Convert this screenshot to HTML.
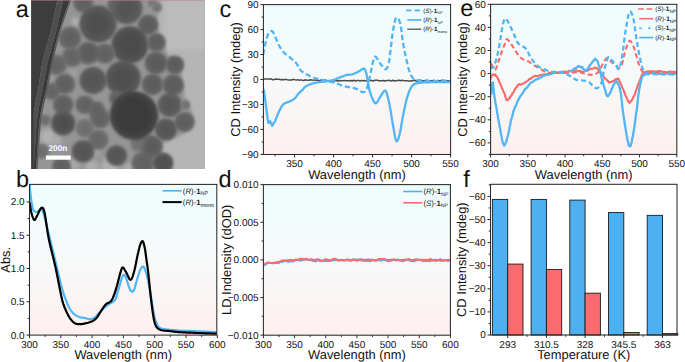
<!DOCTYPE html><html><head><meta charset="utf-8"><style>html,body{margin:0;padding:0;background:#fff;overflow:hidden}svg{display:block}</style></head><body><svg width="685" height="362" viewBox="0 0 685 362" text-rendering="geometricPrecision">
<defs>
<linearGradient id="bg" x1="0" y1="0" x2="0" y2="1">
<stop offset="0" stop-color="#EEFDFE"/><stop offset="0.5" stop-color="#F7F9F9"/><stop offset="1" stop-color="#FDF0EF"/>
</linearGradient>
<filter id="blur05" x="-5%" y="-5%" width="110%" height="110%"><feGaussianBlur stdDeviation="0.5"/></filter>
<filter id="blur1" x="-20%" y="-20%" width="140%" height="140%"><feGaussianBlur stdDeviation="1.5"/></filter>
<filter id="blur2" x="-20%" y="-20%" width="140%" height="140%"><feGaussianBlur stdDeviation="2.2"/></filter>
<radialGradient id="pg" cx="0.5" cy="0.5" r="0.5"><stop offset="0" stop-color="#606060"/><stop offset="0.75" stop-color="#6a6a6a"/><stop offset="1" stop-color="#7c7c7c"/></radialGradient>
<radialGradient id="pgd" cx="0.5" cy="0.5" r="0.5"><stop offset="0" stop-color="#3c3c3c"/><stop offset="0.8" stop-color="#474747"/><stop offset="1" stop-color="#5a5a5a"/></radialGradient>
<clipPath id="temclip"><rect x="31" y="0" width="174" height="169"/></clipPath>
</defs>
<rect width="685" height="362" fill="#fff"/>
<g clip-path="url(#temclip)"><rect x="31" y="0" width="174" height="169" fill="#b4b4b4"/>
<rect x="165" y="0" width="40" height="50" fill="#bbbbbb" filter="url(#blur2)"/>
<path d="M30,-2 L161.00,-2.00 L160.54,0.34 L159.85,3.67 L159.09,7.53 L158.42,11.46 L158.00,15.00 L157.78,18.10 L157.66,21.07 L157.71,23.98 L157.97,26.93 L158.50,30.00 L159.45,33.35 L160.78,36.92 L162.28,40.47 L163.72,43.78 L164.90,46.60 L165.65,48.89 L166.13,50.80 L166.56,52.41 L167.17,53.78 L168.20,55.00 L169.82,55.95 L171.88,56.58 L174.11,57.05 L176.24,57.54 L178.00,58.20 L179.41,58.92 L180.66,59.59 L181.70,60.38 L182.49,61.46 L183.00,63.00 L183.05,65.13 L182.68,67.73 L182.12,70.61 L181.65,73.57 L181.50,76.40 L181.77,79.22 L182.29,82.16 L182.93,85.05 L183.54,87.72 L184.00,90.00 L184.20,91.74 L184.25,93.06 L184.27,94.17 L184.40,95.28 L184.80,96.60 L185.54,98.10 L186.54,99.64 L187.66,101.26 L188.76,103.00 L189.70,104.90 L190.52,107.09 L191.29,109.55 L191.99,112.07 L192.58,114.45 L193.00,116.50 L193.34,118.07 L193.63,119.29 L193.75,120.38 L193.58,121.54 L193.00,123.00 L191.91,124.89 L190.40,127.06 L188.60,129.32 L186.69,131.43 L184.80,133.20 L182.94,134.53 L181.01,135.57 L179.00,136.45 L176.93,137.28 L174.80,138.20 L172.42,139.15 L169.80,140.05 L167.20,140.97 L164.91,142.00 L163.20,143.20 L162.08,144.66 L161.36,146.33 L161.05,148.08 L161.13,149.81 L161.60,151.40 L162.72,152.70 L164.49,153.80 L166.53,154.90 L168.46,156.23 L169.90,158.00 L170.80,160.55 L171.40,163.74 L171.80,167.05 L172.07,169.98 L172.30,172.00 L30,172 Z" fill="#959595" filter="url(#blur1)"/>
<circle cx="48" cy="137" r="8" fill="#b2b2b2" filter="url(#blur2)"/>
<circle cx="56" cy="140" r="6" fill="#aaaaaa" filter="url(#blur2)"/>
<circle cx="74" cy="165" r="6" fill="#a8a8a8" filter="url(#blur2)"/>
<circle cx="110" cy="166" r="9" fill="#b0b0b0" filter="url(#blur2)"/>
<circle cx="92" cy="167" r="7" fill="#adadad" filter="url(#blur2)"/>
<circle cx="128" cy="168" r="5" fill="#aaaaaa" filter="url(#blur2)"/>
<circle cx="95" cy="152" r="5" fill="#a4a4a4" filter="url(#blur2)"/>
<circle cx="75.7" cy="21.5" r="4" fill="#b4b4b4" filter="url(#blur2)"/>
<circle cx="73" cy="73" r="4" fill="#a0a0a0" filter="url(#blur2)"/>
<circle cx="83.2" cy="2.5" r="10.08" fill="#686868" filter="url(#blur1)"/>
<circle cx="98.1" cy="24" r="18.59" fill="#585858" filter="url(#blur1)"/>
<circle cx="114.7" cy="5" r="7.39" fill="#6c6c6c" filter="url(#blur1)"/>
<circle cx="126.6" cy="8.3" r="15.79" fill="#5c5c5c" filter="url(#blur1)"/>
<circle cx="148.1" cy="24.9" r="10.19" fill="#646464" filter="url(#blur1)"/>
<circle cx="157.2" cy="7.5" r="4.59" fill="#787878" filter="url(#blur1)"/>
<circle cx="152.3" cy="2.5" r="4.48" fill="#7e7e7e" filter="url(#blur1)"/>
<circle cx="70" cy="38" r="11.20" fill="#686868" filter="url(#blur1)"/>
<circle cx="129.9" cy="44.8" r="18.59" fill="#535353" filter="url(#blur1)"/>
<circle cx="156.4" cy="42.4" r="9.30" fill="#656565" filter="url(#blur1)"/>
<circle cx="105" cy="53.5" r="10.08" fill="#686868" filter="url(#blur1)"/>
<circle cx="88.2" cy="53" r="11.20" fill="#646464" filter="url(#blur1)"/>
<circle cx="72" cy="57" r="10.08" fill="#6c6c6c" filter="url(#blur1)"/>
<circle cx="156" cy="63" r="11.20" fill="#626262" filter="url(#blur1)"/>
<circle cx="56.6" cy="65" r="10.19" fill="#6c6c6c" filter="url(#blur1)"/>
<circle cx="93" cy="80.5" r="13.44" fill="#5c5c5c" filter="url(#blur1)"/>
<circle cx="123.2" cy="78.2" r="17.58" fill="#575757" filter="url(#blur1)"/>
<circle cx="64.9" cy="84" r="10.19" fill="#666666" filter="url(#blur1)"/>
<circle cx="51.6" cy="91.5" r="8.40" fill="#6c6c6c" filter="url(#blur1)"/>
<circle cx="174.8" cy="64.8" r="9.30" fill="#646464" filter="url(#blur1)"/>
<circle cx="173.2" cy="85" r="10.64" fill="#636363" filter="url(#blur1)"/>
<circle cx="152.5" cy="84.5" r="10.64" fill="#646464" filter="url(#blur1)"/>
<circle cx="63.2" cy="104.7" r="10.19" fill="#666666" filter="url(#blur1)"/>
<circle cx="84.8" cy="104.7" r="9.30" fill="#686868" filter="url(#blur1)"/>
<circle cx="96.6" cy="109.7" r="8.40" fill="#6a6a6a" filter="url(#blur1)"/>
<circle cx="116.5" cy="98.1" r="7.39" fill="#686868" filter="url(#blur1)"/>
<circle cx="169.8" cy="104.9" r="12.10" fill="#5e5e5e" filter="url(#blur1)"/>
<circle cx="185.6" cy="104.9" r="4.59" fill="#787878" filter="url(#blur1)"/>
<circle cx="184.6" cy="122" r="10.08" fill="#656565" filter="url(#blur1)"/>
<circle cx="100" cy="118.3" r="10.19" fill="#6a6a6a" filter="url(#blur1)"/>
<circle cx="63.2" cy="123.3" r="12.10" fill="#565656" filter="url(#blur1)"/>
<circle cx="84.8" cy="128.2" r="9.30" fill="#757575" filter="url(#blur1)"/>
<circle cx="98.3" cy="139.8" r="10.19" fill="#6e6e6e" filter="url(#blur1)"/>
<circle cx="83.1" cy="151.4" r="11.20" fill="#5c5c5c" filter="url(#blur1)"/>
<circle cx="61.5" cy="166.4" r="9.30" fill="#686868" filter="url(#blur1)"/>
<circle cx="41.7" cy="151.4" r="7.39" fill="#757575" filter="url(#blur1)"/>
<circle cx="116.5" cy="155.7" r="10.42" fill="#5c5c5c" filter="url(#blur1)"/>
<circle cx="143" cy="163" r="11.20" fill="#686868" filter="url(#blur1)"/>
<circle cx="139.7" cy="143.2" r="9.30" fill="#787878" filter="url(#blur1)"/>
<circle cx="166" cy="129.5" r="10.98" fill="#5c5c5c" filter="url(#blur1)"/>
<circle cx="151.6" cy="146.5" r="11.20" fill="#646464" filter="url(#blur1)"/>
<circle cx="163.2" cy="163" r="10.19" fill="#585858" filter="url(#blur1)"/>
<circle cx="45" cy="120" r="5.60" fill="#757575" filter="url(#blur1)"/>
<circle cx="83.2" cy="2.5" r="6.75" fill="#606060" filter="url(#blur2)"/>
<circle cx="98.1" cy="24" r="12.45" fill="#505050" filter="url(#blur2)"/>
<circle cx="114.7" cy="5" r="4.95" fill="#646464" filter="url(#blur2)"/>
<circle cx="126.6" cy="8.3" r="10.57" fill="#545454" filter="url(#blur2)"/>
<circle cx="148.1" cy="24.9" r="6.82" fill="#5c5c5c" filter="url(#blur2)"/>
<circle cx="157.2" cy="7.5" r="3.07" fill="#707070" filter="url(#blur2)"/>
<circle cx="152.3" cy="2.5" r="3.00" fill="#767676" filter="url(#blur2)"/>
<circle cx="70" cy="38" r="7.50" fill="#606060" filter="url(#blur2)"/>
<circle cx="129.9" cy="44.8" r="12.45" fill="#4b4b4b" filter="url(#blur2)"/>
<circle cx="156.4" cy="42.4" r="6.23" fill="#5d5d5d" filter="url(#blur2)"/>
<circle cx="105" cy="53.5" r="6.75" fill="#606060" filter="url(#blur2)"/>
<circle cx="88.2" cy="53" r="7.50" fill="#5c5c5c" filter="url(#blur2)"/>
<circle cx="72" cy="57" r="6.75" fill="#646464" filter="url(#blur2)"/>
<circle cx="156" cy="63" r="7.50" fill="#5a5a5a" filter="url(#blur2)"/>
<circle cx="56.6" cy="65" r="6.82" fill="#646464" filter="url(#blur2)"/>
<circle cx="93" cy="80.5" r="9.00" fill="#545454" filter="url(#blur2)"/>
<circle cx="123.2" cy="78.2" r="11.77" fill="#4f4f4f" filter="url(#blur2)"/>
<circle cx="64.9" cy="84" r="6.82" fill="#5e5e5e" filter="url(#blur2)"/>
<circle cx="51.6" cy="91.5" r="5.62" fill="#646464" filter="url(#blur2)"/>
<circle cx="174.8" cy="64.8" r="6.23" fill="#5c5c5c" filter="url(#blur2)"/>
<circle cx="173.2" cy="85" r="7.12" fill="#5b5b5b" filter="url(#blur2)"/>
<circle cx="152.5" cy="84.5" r="7.12" fill="#5c5c5c" filter="url(#blur2)"/>
<circle cx="63.2" cy="104.7" r="6.82" fill="#5e5e5e" filter="url(#blur2)"/>
<circle cx="84.8" cy="104.7" r="6.23" fill="#606060" filter="url(#blur2)"/>
<circle cx="96.6" cy="109.7" r="5.62" fill="#626262" filter="url(#blur2)"/>
<circle cx="116.5" cy="98.1" r="4.95" fill="#606060" filter="url(#blur2)"/>
<circle cx="169.8" cy="104.9" r="8.10" fill="#565656" filter="url(#blur2)"/>
<circle cx="185.6" cy="104.9" r="3.07" fill="#707070" filter="url(#blur2)"/>
<circle cx="184.6" cy="122" r="6.75" fill="#5d5d5d" filter="url(#blur2)"/>
<circle cx="100" cy="118.3" r="6.82" fill="#626262" filter="url(#blur2)"/>
<circle cx="63.2" cy="123.3" r="8.10" fill="#4e4e4e" filter="url(#blur2)"/>
<circle cx="84.8" cy="128.2" r="6.23" fill="#6d6d6d" filter="url(#blur2)"/>
<circle cx="98.3" cy="139.8" r="6.82" fill="#666666" filter="url(#blur2)"/>
<circle cx="83.1" cy="151.4" r="7.50" fill="#545454" filter="url(#blur2)"/>
<circle cx="61.5" cy="166.4" r="6.23" fill="#606060" filter="url(#blur2)"/>
<circle cx="41.7" cy="151.4" r="4.95" fill="#6d6d6d" filter="url(#blur2)"/>
<circle cx="116.5" cy="155.7" r="6.98" fill="#545454" filter="url(#blur2)"/>
<circle cx="143" cy="163" r="7.50" fill="#606060" filter="url(#blur2)"/>
<circle cx="139.7" cy="143.2" r="6.23" fill="#707070" filter="url(#blur2)"/>
<circle cx="166" cy="129.5" r="7.35" fill="#545454" filter="url(#blur2)"/>
<circle cx="151.6" cy="146.5" r="7.50" fill="#5c5c5c" filter="url(#blur2)"/>
<circle cx="163.2" cy="163" r="6.82" fill="#505050" filter="url(#blur2)"/>
<circle cx="45" cy="120" r="3.75" fill="#6d6d6d" filter="url(#blur2)"/>
<circle cx="134" cy="115.5" r="24.3" fill="#444444" filter="url(#blur1)"/>
<circle cx="133.5" cy="115" r="19" fill="#3a3a3a" filter="url(#blur2)"/>
<g filter="url(#blur05)">
<path d="M30,-1 L57.50,-1.00 L56.81,2.38 L55.87,7.07 L54.75,12.62 L53.52,18.59 L52.25,24.53 L51.00,30.00 L49.72,35.06 L48.33,40.07 L46.91,45.06 L45.50,50.04 L44.18,55.01 L43.00,60.00 L41.99,65.06 L41.09,70.19 L40.28,75.31 L39.52,80.37 L38.77,85.29 L38.00,90.00 L37.18,94.46 L36.33,98.70 L35.50,102.81 L34.72,106.85 L34.04,110.89 L33.50,115.00 L33.13,119.10 L32.91,123.11 L32.78,127.12 L32.70,131.22 L32.63,135.49 L32.50,140.00 L32.32,145.18 L32.13,151.04 L31.94,157.06 L31.76,162.74 L31.61,167.56 L31.50,171.00 L30,171 Z" fill="#3d3d3d"/>
<path d="M57.50,-1.00 L56.81,2.38 L55.87,7.07 L54.75,12.62 L53.52,18.59 L52.25,24.53 L51.00,30.00 L49.72,35.06 L48.33,40.07 L46.91,45.06 L45.50,50.04 L44.18,55.01 L43.00,60.00 L41.99,65.06 L41.09,70.19 L40.28,75.31 L39.52,80.37 L38.77,85.29 L38.00,90.00 L37.18,94.46 L36.33,98.70 L35.50,102.81 L34.72,106.85 L34.04,110.89 L33.50,115.00 L33.13,119.10 L32.91,123.11 L32.78,127.12 L32.70,131.22 L32.63,135.49 L32.50,140.00 L32.32,145.18 L32.13,151.04 L31.94,157.06 L31.76,162.74 L31.61,167.56 L31.50,171.00 L33.50,171.00 L33.72,167.56 L34.01,162.74 L34.37,157.06 L34.75,151.04 L35.14,145.18 L35.50,140.00 L35.81,135.49 L36.09,131.22 L36.37,127.12 L36.69,123.11 L37.09,119.10 L37.60,115.00 L38.24,110.89 L38.99,106.85 L39.81,102.81 L40.68,98.70 L41.59,94.46 L42.50,90.00 L43.41,85.29 L44.34,80.37 L45.31,75.31 L46.31,70.19 L47.37,65.06 L48.50,60.00 L49.73,55.01 L51.06,50.04 L52.45,45.06 L53.85,40.07 L55.21,35.06 L56.50,30.00 L57.78,24.53 L59.11,18.59 L60.40,12.62 L61.58,7.07 L62.57,2.38 L63.30,-1.00 Z" fill="#4f4f4f" />
<path d="M63.30,-1.00 L62.57,2.38 L61.58,7.07 L60.40,12.62 L59.11,18.59 L57.78,24.53 L56.50,30.00 L55.21,35.06 L53.85,40.07 L52.45,45.06 L51.06,50.04 L49.73,55.01 L48.50,60.00 L47.37,65.06 L46.31,70.19 L45.31,75.31 L44.34,80.37 L43.41,85.29 L42.50,90.00 L41.59,94.46 L40.68,98.70 L39.81,102.81 L38.99,106.85 L38.24,110.89 L37.60,115.00 L37.09,119.10 L36.69,123.11 L36.37,127.12 L36.09,131.22 L35.81,135.49 L35.50,140.00 L35.14,145.18 L34.75,151.04 L34.37,157.06 L34.01,162.74 L33.72,167.56 L33.50,171.00 L36.00,171.00 L36.21,167.56 L36.51,162.74 L36.86,157.06 L37.24,151.04 L37.63,145.18 L38.00,140.00 L38.33,135.49 L38.63,131.22 L38.93,127.12 L39.29,123.11 L39.73,119.10 L40.30,115.00 L41.03,110.89 L41.88,106.85 L42.82,102.81 L43.81,98.70 L44.82,94.46 L45.80,90.00 L46.75,85.29 L47.70,80.37 L48.66,75.31 L49.66,70.19 L50.70,65.06 L51.80,60.00 L52.95,55.01 L54.14,50.04 L55.37,45.06 L56.66,40.07 L58.03,35.06 L59.50,30.00 L61.21,24.53 L63.18,18.59 L65.23,12.62 L67.17,7.07 L68.83,2.38 L70.00,-1.00 Z" fill="#393939" />
<path d="M70.00,-1.00 L68.83,2.38 L67.17,7.07 L65.23,12.62 L63.18,18.59 L61.21,24.53 L59.50,30.00 L58.03,35.06 L56.66,40.07 L55.37,45.06 L54.14,50.04 L52.95,55.01 L51.80,60.00 L50.70,65.06 L49.66,70.19 L48.66,75.31 L47.70,80.37 L46.75,85.29 L45.80,90.00 L44.82,94.46 L43.81,98.70 L42.82,102.81 L41.88,106.85 L41.03,110.89 L40.30,115.00 L39.73,119.10 L39.29,123.11 L38.93,127.12 L38.63,131.22 L38.33,135.49 L38.00,140.00 L37.63,145.18 L37.24,151.04 L36.86,157.06 L36.51,162.74 L36.21,167.56 L36.00,171.00 L37.50,171.00 L37.71,167.56 L38.00,162.74 L38.34,157.06 L38.72,151.04 L39.11,145.18 L39.50,140.00 L39.85,135.49 L40.19,131.22 L40.53,127.12 L40.93,123.11 L41.40,119.10 L42.00,115.00 L42.74,110.89 L43.59,106.85 L44.53,102.81 L45.52,98.70 L46.52,94.46 L47.50,90.00 L48.45,85.29 L49.41,80.37 L50.38,75.31 L51.37,70.19 L52.41,65.06 L53.50,60.00 L54.63,55.01 L55.78,50.04 L56.97,45.06 L58.22,40.07 L59.56,35.06 L61.00,30.00 L62.70,24.53 L64.67,18.59 L66.72,12.62 L68.67,7.07 L70.32,2.38 L71.50,-1.00 Z" fill="#5a5a5a" />
</g>
<rect x="31" y="100" width="2.5" height="70" fill="#333333" opacity="0.7"/>
<rect x="31" y="0" width="0.8" height="169" fill="#7a5a5a" opacity="0.6"/>
<rect x="31" y="0" width="174" height="0.8" fill="#b88a8a" opacity="0.6"/>
<rect x="45.9" y="155.5" width="24.8" height="4.2" fill="#fff"/>
<text x="57.9" y="150.6" font-size="8.3" text-anchor="middle" font-family="Liberation Sans, sans-serif" font-weight="bold" fill="#fff">200n</text></g>
<text x="15.80" y="16.60" font-size="23.5" text-anchor="start" font-family="Liberation Sans, sans-serif" fill="#111" >a</text>
<text x="16.00" y="186.50" font-size="23.5" text-anchor="start" font-family="Liberation Sans, sans-serif" fill="#111" >b</text>
<text x="219.60" y="16.60" font-size="23.5" text-anchor="start" font-family="Liberation Sans, sans-serif" fill="#111" >c</text>
<text x="218.40" y="187.00" font-size="23.5" text-anchor="start" font-family="Liberation Sans, sans-serif" fill="#111" >d</text>
<text x="460.20" y="16.40" font-size="23.5" text-anchor="start" font-family="Liberation Sans, sans-serif" fill="#111" >e</text>
<text x="463.30" y="186.90" font-size="23.5" text-anchor="start" font-family="Liberation Sans, sans-serif" fill="#111" >f</text>
<rect x="29.5" y="184.4" width="187.3" height="150.7" fill="url(#bg)"/>
<clipPath id="cb"><rect x="29.5" y="184.4" width="187.3" height="150.7"/></clipPath>
<g clip-path="url(#cb)">
<path d="M29.50,183.92 L29.59,184.90 L29.71,186.22 L29.85,187.79 L30.01,189.54 L30.18,191.37 L30.37,193.21 L30.56,194.97 L30.75,196.57 L30.96,198.11 L31.18,199.68 L31.41,201.27 L31.65,202.82 L31.90,204.29 L32.15,205.66 L32.39,206.87 L32.63,207.89 L32.86,208.71 L33.08,209.35 L33.31,209.85 L33.53,210.22 L33.76,210.52 L33.99,210.77 L34.24,210.99 L34.51,211.22 L34.78,211.45 L35.06,211.64 L35.35,211.79 L35.64,211.89 L35.95,211.95 L36.28,211.97 L36.63,211.95 L37.01,211.89 L37.43,211.74 L37.89,211.47 L38.38,211.13 L38.89,210.77 L39.40,210.42 L39.89,210.13 L40.35,209.94 L40.77,209.89 L41.12,209.89 L41.42,209.84 L41.69,209.82 L41.94,209.89 L42.20,210.13 L42.50,210.61 L42.85,211.39 L43.27,212.56 L43.75,214.06 L44.26,215.82 L44.80,217.85 L45.39,220.13 L46.02,222.68 L46.71,225.48 L47.46,228.55 L48.28,231.87 L49.22,235.67 L50.28,240.05 L51.43,244.81 L52.63,249.77 L53.82,254.74 L54.97,259.53 L56.04,263.96 L56.98,267.83 L57.79,271.18 L58.50,274.20 L59.14,276.94 L59.73,279.45 L60.29,281.81 L60.85,284.06 L61.43,286.26 L62.05,288.48 L62.71,290.69 L63.37,292.83 L64.04,294.88 L64.72,296.85 L65.39,298.73 L66.06,300.51 L66.72,302.18 L67.37,303.73 L68.01,305.16 L68.62,306.46 L69.22,307.65 L69.82,308.74 L70.43,309.75 L71.05,310.68 L71.70,311.56 L72.38,312.39 L73.10,313.16 L73.85,313.85 L74.62,314.46 L75.41,315.02 L76.20,315.51 L77.00,315.95 L77.80,316.35 L78.58,316.72 L79.36,317.02 L80.16,317.25 L80.95,317.42 L81.75,317.55 L82.54,317.65 L83.31,317.74 L84.06,317.85 L84.78,317.98 L85.46,318.16 L86.11,318.36 L86.74,318.57 L87.35,318.78 L87.96,318.96 L88.56,319.10 L89.17,319.18 L89.78,319.18 L90.41,319.12 L91.04,319.00 L91.67,318.84 L92.30,318.63 L92.92,318.38 L93.55,318.07 L94.17,317.72 L94.79,317.32 L95.41,316.85 L96.02,316.30 L96.63,315.70 L97.23,315.05 L97.84,314.38 L98.45,313.70 L99.06,313.03 L99.67,312.39 L100.29,311.76 L100.92,311.11 L101.54,310.46 L102.17,309.81 L102.80,309.17 L103.43,308.55 L104.06,307.96 L104.68,307.39 L105.31,306.87 L105.93,306.39 L106.55,305.93 L107.17,305.48 L107.79,305.05 L108.42,304.62 L109.05,304.18 L109.69,303.73 L110.36,303.30 L111.06,302.91 L111.78,302.53 L112.49,302.15 L113.19,301.73 L113.85,301.25 L114.47,300.68 L115.01,300.00 L115.48,299.19 L115.89,298.25 L116.26,297.22 L116.58,296.13 L116.89,295.01 L117.18,293.90 L117.47,292.82 L117.77,291.81 L118.07,290.85 L118.35,289.92 L118.63,289.00 L118.90,288.09 L119.16,287.19 L119.42,286.30 L119.69,285.39 L119.96,284.48 L120.23,283.53 L120.51,282.54 L120.79,281.52 L121.07,280.51 L121.35,279.54 L121.62,278.64 L121.89,277.83 L122.15,277.16 L122.40,276.59 L122.63,276.08 L122.86,275.65 L123.09,275.31 L123.31,275.04 L123.54,274.87 L123.78,274.80 L124.03,274.83 L124.28,274.96 L124.54,275.20 L124.80,275.54 L125.06,275.97 L125.34,276.49 L125.62,277.08 L125.91,277.75 L126.22,278.49 L126.54,279.36 L126.88,280.40 L127.24,281.56 L127.61,282.78 L127.97,284.00 L128.34,285.17 L128.69,286.24 L129.03,287.15 L129.36,287.94 L129.68,288.68 L130.00,289.35 L130.31,289.96 L130.61,290.48 L130.92,290.92 L131.23,291.25 L131.54,291.48 L131.85,291.62 L132.15,291.69 L132.45,291.69 L132.75,291.58 L133.06,291.36 L133.37,291.00 L133.70,290.49 L134.04,289.81 L134.40,288.90 L134.78,287.75 L135.17,286.42 L135.57,284.96 L135.97,283.45 L136.37,281.94 L136.78,280.49 L137.17,279.16 L137.56,277.89 L137.96,276.59 L138.36,275.30 L138.75,274.04 L139.15,272.83 L139.54,271.71 L139.92,270.70 L140.30,269.83 L140.68,269.08 L141.06,268.41 L141.43,267.82 L141.80,267.33 L142.17,266.95 L142.52,266.68 L142.86,266.53 L143.18,266.50 L143.48,266.61 L143.75,266.85 L144.00,267.20 L144.25,267.67 L144.49,268.24 L144.75,268.91 L145.02,269.66 L145.31,270.50 L145.63,271.40 L145.95,272.36 L146.29,273.40 L146.64,274.54 L147.00,275.80 L147.37,277.19 L147.74,278.75 L148.13,280.49 L148.53,282.48 L148.95,284.75 L149.39,287.22 L149.83,289.81 L150.27,292.44 L150.71,295.04 L151.12,297.52 L151.51,299.80 L151.87,301.95 L152.20,304.07 L152.52,306.13 L152.83,308.13 L153.13,310.04 L153.43,311.85 L153.75,313.55 L154.07,315.12 L154.40,316.55 L154.72,317.85 L155.04,319.03 L155.36,320.12 L155.70,321.12 L156.06,322.05 L156.46,322.93 L156.89,323.78 L157.28,324.57 L157.57,325.29 L157.85,325.93 L158.17,326.52 L158.62,327.06 L159.26,327.55 L160.16,328.01 L161.40,328.44 L162.90,328.83 L164.56,329.15 L166.42,329.42 L168.50,329.66 L170.85,329.88 L173.48,330.08 L176.43,330.29 L179.74,330.50 L183.77,330.74 L188.66,330.97 L194.07,331.21 L199.67,331.43 L205.12,331.64 L210.10,331.83 L214.27,331.98 L217.30,332.10" fill="none" stroke="#52B5F4" stroke-width="2.2" stroke-linejoin="round"/>
<path d="M29.50,201.90 L29.64,202.74 L29.82,203.89 L30.03,205.26 L30.26,206.77 L30.52,208.34 L30.80,209.88 L31.09,211.31 L31.38,212.56 L31.69,213.71 L32.02,214.89 L32.37,216.04 L32.73,217.13 L33.10,218.11 L33.47,218.92 L33.84,219.53 L34.20,219.88 L34.54,219.95 L34.86,219.77 L35.18,219.39 L35.51,218.84 L35.84,218.17 L36.20,217.43 L36.58,216.65 L37.01,215.89 L37.49,214.99 L38.03,213.87 L38.60,212.63 L39.18,211.35 L39.77,210.14 L40.35,209.10 L40.90,208.31 L41.39,207.89 L41.84,207.73 L42.24,207.67 L42.61,207.78 L42.97,208.10 L43.33,208.69 L43.70,209.60 L44.09,210.87 L44.52,212.56 L44.98,214.76 L45.43,217.47 L45.90,220.59 L46.39,224.00 L46.90,227.61 L47.46,231.30 L48.06,234.98 L48.72,238.53 L49.46,242.05 L50.28,245.67 L51.16,249.36 L52.08,253.10 L53.00,256.85 L53.92,260.57 L54.79,264.24 L55.60,267.83 L56.38,271.46 L57.15,275.21 L57.90,278.99 L58.63,282.71 L59.32,286.27 L59.97,289.59 L60.57,292.58 L61.11,295.14 L61.56,297.19 L61.90,298.79 L62.18,300.03 L62.43,301.04 L62.67,301.93 L62.94,302.79 L63.26,303.76 L63.68,304.93 L64.19,306.30 L64.76,307.75 L65.38,309.24 L66.04,310.75 L66.71,312.23 L67.39,313.64 L68.05,314.95 L68.69,316.12 L69.30,317.16 L69.91,318.12 L70.52,319.00 L71.13,319.80 L71.74,320.53 L72.34,321.19 L72.95,321.78 L73.57,322.31 L74.18,322.77 L74.79,323.14 L75.39,323.44 L75.99,323.67 L76.61,323.85 L77.24,323.99 L77.89,324.10 L78.58,324.18 L79.30,324.22 L80.04,324.22 L80.82,324.16 L81.60,324.07 L82.40,323.96 L83.20,323.82 L83.99,323.67 L84.78,323.51 L85.56,323.35 L86.35,323.17 L87.15,322.98 L87.95,322.77 L88.74,322.54 L89.51,322.28 L90.26,322.01 L90.97,321.71 L91.66,321.42 L92.31,321.13 L92.94,320.83 L93.55,320.50 L94.16,320.13 L94.76,319.70 L95.36,319.19 L95.98,318.58 L96.61,317.85 L97.24,317.01 L97.86,316.07 L98.49,315.08 L99.12,314.06 L99.75,313.04 L100.37,312.05 L100.99,311.12 L101.60,310.22 L102.22,309.29 L102.82,308.37 L103.43,307.46 L104.04,306.58 L104.65,305.76 L105.26,305.00 L105.87,304.33 L106.50,303.79 L107.16,303.36 L107.82,303.02 L108.49,302.73 L109.13,302.44 L109.76,302.11 L110.34,301.71 L110.88,301.20 L111.36,300.60 L111.79,299.95 L112.19,299.26 L112.56,298.52 L112.92,297.73 L113.27,296.88 L113.63,295.98 L114.01,295.01 L114.40,293.96 L114.79,292.85 L115.18,291.67 L115.57,290.44 L115.97,289.16 L116.36,287.85 L116.75,286.51 L117.14,285.15 L117.54,283.71 L117.94,282.15 L118.35,280.53 L118.76,278.89 L119.16,277.29 L119.54,275.76 L119.92,274.37 L120.27,273.16 L120.59,272.08 L120.88,271.07 L121.15,270.14 L121.42,269.31 L121.68,268.61 L121.96,268.07 L122.25,267.69 L122.59,267.50 L122.94,267.54 L123.32,267.79 L123.70,268.23 L124.10,268.81 L124.52,269.50 L124.96,270.26 L125.42,271.05 L125.90,271.83 L126.42,272.76 L126.98,273.95 L127.57,275.26 L128.17,276.60 L128.78,277.83 L129.37,278.86 L129.94,279.56 L130.47,279.82 L130.97,279.63 L131.45,279.10 L131.90,278.29 L132.35,277.24 L132.78,276.02 L133.20,274.67 L133.62,273.26 L134.04,271.83 L134.46,270.29 L134.87,268.54 L135.28,266.65 L135.67,264.67 L136.06,262.67 L136.44,260.72 L136.81,258.86 L137.17,257.18 L137.52,255.61 L137.86,254.09 L138.18,252.63 L138.50,251.23 L138.81,249.90 L139.11,248.67 L139.40,247.54 L139.68,246.52 L139.94,245.62 L140.20,244.83 L140.44,244.13 L140.67,243.53 L140.90,243.00 L141.12,242.56 L141.34,242.18 L141.55,241.86 L141.76,241.59 L141.96,241.36 L142.15,241.20 L142.34,241.11 L142.52,241.12 L142.71,241.24 L142.91,241.48 L143.12,241.86 L143.34,242.40 L143.57,243.08 L143.81,243.90 L144.06,244.82 L144.30,245.82 L144.54,246.90 L144.78,248.03 L145.00,249.19 L145.21,250.41 L145.41,251.74 L145.61,253.14 L145.80,254.60 L145.99,256.09 L146.18,257.58 L146.37,259.07 L146.56,260.51 L146.75,261.79 L146.91,262.87 L147.07,263.88 L147.23,264.92 L147.41,266.12 L147.61,267.59 L147.84,269.46 L148.13,271.83 L148.46,274.86 L148.85,278.52 L149.26,282.60 L149.71,286.94 L150.16,291.34 L150.62,295.63 L151.08,299.62 L151.51,303.13 L151.91,306.26 L152.30,309.24 L152.69,312.05 L153.07,314.68 L153.47,317.11 L153.89,319.34 L154.34,321.34 L154.83,323.11 L155.33,324.59 L155.82,325.78 L156.32,326.72 L156.85,327.46 L157.43,328.06 L158.09,328.56 L158.84,329.03 L159.71,329.51 L160.71,329.94 L161.85,330.25 L163.09,330.48 L164.40,330.64 L165.74,330.75 L167.10,330.85 L168.44,330.96 L169.72,331.10 L170.96,331.27 L172.17,331.42 L173.37,331.56 L174.58,331.70 L175.80,331.83 L177.06,331.95 L178.37,332.06 L179.74,332.17 L181.10,332.26 L182.40,332.34 L183.70,332.41 L185.06,332.47 L186.54,332.54 L188.19,332.60 L190.08,332.68 L192.26,332.77 L194.96,332.88 L198.23,333.01 L201.83,333.16 L205.56,333.31 L209.19,333.45 L212.51,333.58 L215.28,333.69 L217.30,333.77" fill="none" stroke="#000" stroke-width="2.2" stroke-linejoin="round"/>
</g>
<rect x="29.5" y="184.4" width="187.3" height="150.70000000000002" fill="none" stroke="#2a2a2a" stroke-width="1.05"/>
<line x1="29.50" y1="335.1" x2="29.50" y2="338.1" stroke="#2a2a2a" stroke-width="1"/>
<text x="29.50" y="347.60" font-size="10.0" text-anchor="middle" font-family="Liberation Sans, sans-serif" fill="#111" >300</text>
<line x1="60.80" y1="335.1" x2="60.80" y2="338.1" stroke="#2a2a2a" stroke-width="1"/>
<text x="60.80" y="347.60" font-size="10.0" text-anchor="middle" font-family="Liberation Sans, sans-serif" fill="#111" >350</text>
<line x1="92.10" y1="335.1" x2="92.10" y2="338.1" stroke="#2a2a2a" stroke-width="1"/>
<text x="92.10" y="347.60" font-size="10.0" text-anchor="middle" font-family="Liberation Sans, sans-serif" fill="#111" >400</text>
<line x1="123.40" y1="335.1" x2="123.40" y2="338.1" stroke="#2a2a2a" stroke-width="1"/>
<text x="123.40" y="347.60" font-size="10.0" text-anchor="middle" font-family="Liberation Sans, sans-serif" fill="#111" >450</text>
<line x1="154.70" y1="335.1" x2="154.70" y2="338.1" stroke="#2a2a2a" stroke-width="1"/>
<text x="154.70" y="347.60" font-size="10.0" text-anchor="middle" font-family="Liberation Sans, sans-serif" fill="#111" >500</text>
<line x1="186.00" y1="335.1" x2="186.00" y2="338.1" stroke="#2a2a2a" stroke-width="1"/>
<text x="186.00" y="347.60" font-size="10.0" text-anchor="middle" font-family="Liberation Sans, sans-serif" fill="#111" >550</text>
<line x1="217.30" y1="335.1" x2="217.30" y2="338.1" stroke="#2a2a2a" stroke-width="1"/>
<text x="217.30" y="347.60" font-size="10.0" text-anchor="middle" font-family="Liberation Sans, sans-serif" fill="#111" >600</text>
<line x1="45.15" y1="335.1" x2="45.15" y2="336.90000000000003" stroke="#2a2a2a" stroke-width="1"/>
<line x1="76.45" y1="335.1" x2="76.45" y2="336.90000000000003" stroke="#2a2a2a" stroke-width="1"/>
<line x1="107.75" y1="335.1" x2="107.75" y2="336.90000000000003" stroke="#2a2a2a" stroke-width="1"/>
<line x1="139.05" y1="335.1" x2="139.05" y2="336.90000000000003" stroke="#2a2a2a" stroke-width="1"/>
<line x1="170.35" y1="335.1" x2="170.35" y2="336.90000000000003" stroke="#2a2a2a" stroke-width="1"/>
<line x1="201.65" y1="335.1" x2="201.65" y2="336.90000000000003" stroke="#2a2a2a" stroke-width="1"/>
<line x1="26.5" y1="335.10" x2="29.5" y2="335.10" stroke="#2a2a2a" stroke-width="1"/>
<text x="24.70" y="338.50" font-size="10.0" text-anchor="end" font-family="Liberation Sans, sans-serif" fill="#111" >0.0</text>
<line x1="26.5" y1="301.80" x2="29.5" y2="301.80" stroke="#2a2a2a" stroke-width="1"/>
<text x="24.70" y="305.20" font-size="10.0" text-anchor="end" font-family="Liberation Sans, sans-serif" fill="#111" >0.5</text>
<line x1="26.5" y1="268.50" x2="29.5" y2="268.50" stroke="#2a2a2a" stroke-width="1"/>
<text x="24.70" y="271.90" font-size="10.0" text-anchor="end" font-family="Liberation Sans, sans-serif" fill="#111" >1.0</text>
<line x1="26.5" y1="235.20" x2="29.5" y2="235.20" stroke="#2a2a2a" stroke-width="1"/>
<text x="24.70" y="238.60" font-size="10.0" text-anchor="end" font-family="Liberation Sans, sans-serif" fill="#111" >1.5</text>
<line x1="26.5" y1="201.90" x2="29.5" y2="201.90" stroke="#2a2a2a" stroke-width="1"/>
<text x="24.70" y="205.30" font-size="10.0" text-anchor="end" font-family="Liberation Sans, sans-serif" fill="#111" >2.0</text>
<line x1="27.7" y1="318.45" x2="29.5" y2="318.45" stroke="#2a2a2a" stroke-width="1"/>
<line x1="27.7" y1="285.15" x2="29.5" y2="285.15" stroke="#2a2a2a" stroke-width="1"/>
<line x1="27.7" y1="251.85" x2="29.5" y2="251.85" stroke="#2a2a2a" stroke-width="1"/>
<line x1="27.7" y1="218.55" x2="29.5" y2="218.55" stroke="#2a2a2a" stroke-width="1"/>
<text x="123.25" y="359.20" font-size="12.9" text-anchor="middle" font-family="Liberation Sans, sans-serif" fill="#111" >Wavelength (nm)</text>
<text x="9.6" y="259.8" font-size="12.9" text-anchor="middle" font-family="Liberation Sans, sans-serif" fill="#111" transform="rotate(-90 9.6 259.8)">Abs.</text>
<line x1="162.5" y1="190.8" x2="181.7" y2="190.8" stroke="#4DB1F1" stroke-width="1.6"/>
<line x1="162.5" y1="202.1" x2="181.7" y2="202.1" stroke="#000" stroke-width="2"/>
<text x="182.8" y="193.8" font-size="7.8" font-family="Liberation Sans, sans-serif" fill="#222">(<tspan font-style="italic">R</tspan>)-<tspan font-weight="bold">1</tspan><tspan font-size="5.4" dy="1.6">NP</tspan></text>
<text x="182.8" y="205.1" font-size="7.8" font-family="Liberation Sans, sans-serif" fill="#222">(<tspan font-style="italic">R</tspan>)-<tspan font-weight="bold">1</tspan><tspan font-size="5.4" dy="1.6">mono</tspan></text>
<rect x="263.4" y="4.6" width="187.2" height="149.9" fill="url(#bg)"/>
<clipPath id="cc"><rect x="263.4" y="4.6" width="187.2" height="149.9"/></clipPath>
<g clip-path="url(#cc)">
<path d="M263.40,79.06 L264.96,79.00 L266.52,78.99 L268.08,78.90 L269.64,79.10 L271.20,78.98 L272.76,79.76 L274.32,79.43 L275.88,79.06 L277.44,79.34 L279.00,79.17 L280.56,79.86 L282.12,79.59 L283.68,79.81 L285.24,79.60 L286.80,79.60 L288.36,80.10 L289.92,79.97 L291.48,79.95 L293.04,79.45 L294.60,79.61 L296.16,80.15 L297.72,79.65 L299.28,80.23 L300.84,79.87 L302.40,80.31 L303.96,80.45 L305.52,79.76 L307.08,80.34 L308.64,80.37 L310.20,79.76 L311.76,79.89 L313.32,80.41 L314.88,79.88 L316.44,80.27 L318.00,80.18 L319.56,80.61 L321.12,80.03 L322.68,80.27 L324.24,80.08 L325.80,80.17 L327.36,80.70 L328.92,80.68 L330.48,80.88 L332.04,80.93 L333.60,81.03 L335.16,80.83 L336.72,80.58 L338.28,81.08 L339.84,80.52 L341.40,80.80 L342.96,80.82 L344.52,80.40 L346.08,80.68 L347.64,80.82 L349.20,80.68 L350.76,80.49 L352.32,81.03 L353.88,80.27 L355.44,81.06 L357.00,80.46 L358.56,80.38 L360.12,81.07 L361.68,80.43 L363.24,80.78 L364.80,80.60 L366.36,81.07 L367.92,81.04 L369.48,80.93 L371.04,80.29 L372.60,80.92 L374.16,80.45 L375.72,80.31 L377.28,80.30 L378.84,80.79 L380.40,80.79 L381.96,80.64 L383.52,80.44 L385.08,80.99 L386.64,80.46 L388.20,80.42 L389.76,80.37 L391.32,81.05 L392.88,80.29 L394.44,81.01 L396.00,80.80 L397.56,80.57 L399.12,80.32 L400.68,80.80 L402.24,80.31 L403.80,80.63 L405.36,80.82 L406.92,80.82 L408.48,80.93 L410.04,81.02 L411.60,80.96 L413.16,80.51 L414.72,80.25 L416.28,80.95 L417.84,81.04 L419.40,80.26 L420.96,80.64 L422.52,80.74 L424.08,80.88 L425.64,80.59 L427.20,80.39 L428.76,80.70 L430.32,80.73 L431.88,81.03 L433.44,80.32 L435.00,81.05 L436.56,80.67 L438.12,80.38 L439.68,80.97 L441.24,80.47 L442.80,80.29 L444.36,80.56 L445.92,80.43 L447.48,80.99 L449.04,80.72 L450.60,80.96" fill="none" stroke="#4a4a4a" stroke-width="1.5" stroke-linejoin="round"/>
<path d="M263.01,88.65 L263.09,88.82 L263.18,88.94 L263.30,89.08 L263.43,89.29 L263.58,89.61 L263.74,90.11 L263.91,90.83 L264.10,91.82 L264.31,93.14 L264.54,94.76 L264.79,96.62 L265.05,98.64 L265.32,100.75 L265.60,102.89 L265.87,104.98 L266.13,106.96 L266.39,108.97 L266.66,111.15 L266.93,113.38 L267.20,115.59 L267.47,117.67 L267.73,119.52 L267.99,121.07 L268.24,122.19 L268.48,122.82 L268.72,123.00 L268.96,122.86 L269.19,122.49 L269.42,122.03 L269.63,121.58 L269.84,121.27 L270.03,121.19 L270.21,121.34 L270.37,121.57 L270.52,121.87 L270.66,122.21 L270.79,122.58 L270.93,122.95 L271.06,123.30 L271.20,123.61 L271.34,123.91 L271.47,124.24 L271.61,124.58 L271.74,124.91 L271.87,125.20 L272.01,125.43 L272.15,125.57 L272.29,125.61 L272.44,125.51 L272.59,125.30 L272.74,125.00 L272.89,124.65 L273.05,124.26 L273.21,123.87 L273.37,123.50 L273.54,123.19 L273.70,122.97 L273.84,122.82 L273.99,122.71 L274.13,122.59 L274.30,122.42 L274.50,122.16 L274.73,121.76 L275.02,121.19 L275.37,120.42 L275.76,119.45 L276.19,118.36 L276.66,117.17 L277.14,115.94 L277.63,114.71 L278.12,113.53 L278.61,112.46 L279.10,111.42 L279.61,110.37 L280.13,109.32 L280.65,108.30 L281.18,107.33 L281.69,106.43 L282.19,105.64 L282.67,104.97 L283.12,104.43 L283.55,104.03 L283.96,103.73 L284.37,103.50 L284.78,103.32 L285.18,103.16 L285.59,103.00 L286.02,102.80 L286.45,102.61 L286.87,102.44 L287.30,102.30 L287.73,102.17 L288.17,102.04 L288.62,101.88 L289.10,101.70 L289.61,101.47 L290.15,101.21 L290.73,100.94 L291.33,100.65 L291.95,100.33 L292.58,99.99 L293.19,99.61 L293.79,99.19 L294.37,98.72 L294.92,98.19 L295.46,97.58 L295.99,96.91 L296.51,96.22 L297.02,95.52 L297.52,94.84 L298.02,94.21 L298.50,93.65 L298.96,93.16 L299.40,92.73 L299.83,92.34 L300.25,91.97 L300.67,91.61 L301.10,91.24 L301.54,90.84 L302.01,90.40 L302.47,89.91 L302.91,89.39 L303.34,88.84 L303.78,88.29 L304.27,87.73 L304.83,87.18 L305.47,86.65 L306.22,86.16 L307.09,85.69 L308.05,85.22 L309.09,84.76 L310.20,84.32 L311.36,83.90 L312.57,83.51 L313.79,83.15 L315.04,82.83 L316.34,82.55 L317.73,82.32 L319.18,82.13 L320.66,81.96 L322.12,81.81 L323.54,81.66 L324.88,81.50 L326.11,81.33 L327.22,81.16 L328.24,81.01 L329.19,80.86 L330.09,80.71 L330.96,80.55 L331.82,80.37 L332.69,80.16 L333.60,79.92 L334.53,79.62 L335.47,79.28 L336.42,78.90 L337.35,78.51 L338.29,78.11 L339.21,77.72 L340.12,77.35 L341.01,77.00 L341.90,76.68 L342.79,76.35 L343.68,76.03 L344.56,75.72 L345.41,75.43 L346.23,75.17 L347.00,74.94 L347.72,74.76 L348.35,74.64 L348.90,74.60 L349.40,74.60 L349.86,74.63 L350.33,74.65 L350.82,74.64 L351.37,74.58 L352.01,74.42 L352.74,74.18 L353.56,73.88 L354.43,73.52 L355.32,73.13 L356.23,72.72 L357.11,72.30 L357.95,71.89 L358.72,71.51 L359.43,71.10 L360.13,70.63 L360.80,70.14 L361.45,69.66 L362.05,69.23 L362.62,68.88 L363.15,68.66 L363.63,68.60 L364.05,68.69 L364.41,68.90 L364.73,69.21 L365.00,69.62 L365.26,70.12 L365.49,70.69 L365.73,71.32 L365.97,72.01 L366.20,72.77 L366.42,73.61 L366.61,74.53 L366.80,75.52 L366.98,76.57 L367.18,77.67 L367.38,78.82 L367.61,80.00 L367.85,81.26 L368.09,82.62 L368.34,84.05 L368.60,85.52 L368.87,87.00 L369.16,88.45 L369.46,89.85 L369.79,91.15 L370.15,92.40 L370.54,93.65 L370.95,94.87 L371.38,96.05 L371.81,97.17 L372.25,98.21 L372.67,99.15 L373.07,99.97 L373.45,100.71 L373.81,101.40 L374.17,102.01 L374.53,102.54 L374.88,102.95 L375.25,103.22 L375.63,103.35 L376.03,103.30 L376.45,103.04 L376.88,102.56 L377.32,101.91 L377.78,101.13 L378.24,100.28 L378.72,99.40 L379.20,98.53 L379.70,97.73 L380.22,96.90 L380.79,95.97 L381.37,95.00 L381.96,94.02 L382.55,93.10 L383.10,92.28 L383.61,91.61 L384.07,91.15 L384.45,90.84 L384.77,90.60 L385.05,90.46 L385.30,90.45 L385.55,90.59 L385.80,90.92 L386.08,91.46 L386.41,92.23 L386.77,93.27 L387.16,94.55 L387.56,96.04 L387.98,97.72 L388.41,99.54 L388.84,101.47 L389.26,103.49 L389.68,105.55 L390.10,107.75 L390.52,110.16 L390.94,112.72 L391.36,115.35 L391.78,118.01 L392.20,120.62 L392.62,123.11 L393.04,125.44 L393.45,127.74 L393.86,130.15 L394.27,132.57 L394.68,134.88 L395.09,136.98 L395.49,138.77 L395.90,140.15 L396.31,141.00 L396.72,141.31 L397.13,141.16 L397.54,140.62 L397.95,139.75 L398.36,138.63 L398.77,137.31 L399.18,135.86 L399.59,134.34 L400.00,132.65 L400.40,130.66 L400.81,128.44 L401.21,126.08 L401.62,123.65 L402.03,121.21 L402.44,118.84 L402.86,116.62 L403.29,114.47 L403.73,112.29 L404.17,110.12 L404.61,107.98 L405.06,105.90 L405.50,103.91 L405.94,102.03 L406.37,100.31 L406.80,98.72 L407.22,97.26 L407.64,95.90 L408.06,94.63 L408.47,93.45 L408.89,92.35 L409.31,91.30 L409.73,90.32 L410.14,89.40 L410.54,88.56 L410.94,87.80 L411.34,87.10 L411.75,86.47 L412.19,85.90 L412.65,85.38 L413.16,84.91 L413.68,84.50 L414.20,84.18 L414.73,83.92 L415.29,83.71 L415.90,83.53 L416.58,83.38 L417.35,83.24 L418.23,83.08 L419.16,82.92 L420.09,82.78 L421.07,82.66 L422.14,82.55 L423.35,82.46 L424.73,82.38 L426.34,82.31 L428.21,82.25 L430.57,82.20 L433.46,82.17 L436.68,82.16 L440.03,82.15 L443.30,82.16 L446.29,82.16 L448.79,82.16 L450.60,82.16" fill="none" stroke="#52B5F4" stroke-width="2.3" stroke-linejoin="round"/>
<path d="M263.40,54.53 L263.42,54.36 L263.42,54.19 L263.43,53.99 L263.45,53.73 L263.48,53.39 L263.55,52.93 L263.65,52.32 L263.79,51.54 L263.99,50.50 L264.24,49.22 L264.52,47.76 L264.84,46.19 L265.17,44.60 L265.50,43.05 L265.82,41.62 L266.13,40.39 L266.42,39.31 L266.69,38.31 L266.97,37.39 L267.24,36.53 L267.52,35.74 L267.82,35.01 L268.13,34.34 L268.47,33.73 L268.84,33.15 L269.24,32.62 L269.66,32.13 L270.09,31.71 L270.53,31.38 L270.95,31.13 L271.36,31.00 L271.75,30.98 L272.10,31.11 L272.44,31.39 L272.77,31.78 L273.09,32.26 L273.40,32.81 L273.71,33.39 L274.01,33.98 L274.32,34.56 L274.62,35.14 L274.91,35.75 L275.18,36.40 L275.46,37.07 L275.74,37.77 L276.03,38.49 L276.34,39.22 L276.66,39.97 L277.00,40.75 L277.34,41.56 L277.69,42.40 L278.05,43.26 L278.43,44.12 L278.83,44.98 L279.25,45.82 L279.70,46.63 L280.17,47.41 L280.65,48.18 L281.14,48.94 L281.66,49.70 L282.21,50.44 L282.79,51.17 L283.41,51.90 L284.07,52.62 L284.80,53.33 L285.59,54.04 L286.44,54.73 L287.31,55.42 L288.19,56.10 L289.06,56.77 L289.90,57.44 L290.70,58.11 L291.46,58.76 L292.20,59.38 L292.94,59.99 L293.65,60.59 L294.35,61.21 L295.02,61.85 L295.68,62.54 L296.32,63.27 L296.90,64.08 L297.42,64.95 L297.90,65.88 L298.37,66.82 L298.86,67.76 L299.39,68.68 L299.99,69.55 L300.68,70.35 L301.50,71.08 L302.40,71.79 L303.38,72.47 L304.40,73.11 L305.44,73.72 L306.47,74.30 L307.47,74.84 L308.41,75.34 L309.27,75.79 L310.09,76.20 L310.87,76.56 L311.65,76.88 L312.43,77.19 L313.25,77.49 L314.11,77.78 L315.04,78.09 L316.06,78.40 L317.17,78.71 L318.34,79.01 L319.54,79.30 L320.72,79.58 L321.87,79.85 L322.95,80.10 L323.93,80.33 L324.79,80.53 L325.56,80.70 L326.27,80.85 L326.94,80.98 L327.59,81.11 L328.25,81.25 L328.95,81.40 L329.70,81.58 L330.51,81.78 L331.34,81.98 L332.20,82.19 L333.07,82.41 L333.95,82.64 L334.83,82.89 L335.71,83.14 L336.56,83.41 L337.41,83.71 L338.25,84.03 L339.09,84.38 L339.93,84.73 L340.77,85.08 L341.60,85.42 L342.44,85.72 L343.27,85.99 L344.10,86.22 L344.93,86.41 L345.76,86.57 L346.59,86.72 L347.42,86.86 L348.25,87.00 L349.07,87.15 L349.90,87.32 L350.73,87.50 L351.56,87.66 L352.39,87.82 L353.22,87.99 L354.05,88.17 L354.88,88.38 L355.71,88.62 L356.53,88.90 L357.38,89.28 L358.25,89.77 L359.13,90.32 L360.01,90.88 L360.86,91.40 L361.67,91.83 L362.41,92.12 L363.08,92.23 L363.67,92.17 L364.19,91.97 L364.65,91.67 L365.07,91.27 L365.46,90.77 L365.82,90.21 L366.17,89.58 L366.52,88.90 L366.85,88.13 L367.16,87.24 L367.45,86.24 L367.72,85.20 L367.98,84.12 L368.23,83.05 L368.47,82.03 L368.70,81.08 L368.92,80.24 L369.10,79.50 L369.28,78.81 L369.44,78.12 L369.61,77.39 L369.80,76.57 L370.01,75.63 L370.26,74.51 L370.56,73.14 L370.89,71.52 L371.25,69.75 L371.62,67.91 L372.00,66.08 L372.38,64.35 L372.73,62.80 L373.07,61.52 L373.36,60.45 L373.62,59.47 L373.86,58.61 L374.10,57.88 L374.35,57.30 L374.63,56.88 L374.95,56.65 L375.33,56.61 L375.77,56.84 L376.25,57.35 L376.76,58.07 L377.31,58.93 L377.88,59.89 L378.47,60.88 L379.08,61.83 L379.70,62.69 L380.35,63.57 L381.05,64.58 L381.79,65.65 L382.53,66.70 L383.27,67.66 L383.98,68.46 L384.64,69.02 L385.24,69.26 L385.77,69.22 L386.26,68.97 L386.71,68.53 L387.12,67.90 L387.51,67.10 L387.88,66.14 L388.24,65.02 L388.59,63.77 L388.92,62.32 L389.22,60.64 L389.49,58.77 L389.75,56.75 L390.00,54.65 L390.25,52.49 L390.51,50.33 L390.77,48.21 L391.05,46.06 L391.31,43.81 L391.57,41.50 L391.84,39.17 L392.11,36.86 L392.40,34.62 L392.70,32.48 L393.04,30.48 L393.39,28.52 L393.77,26.49 L394.16,24.48 L394.57,22.58 L394.99,20.87 L395.42,19.42 L395.86,18.33 L396.31,17.67 L396.79,17.45 L397.29,17.60 L397.81,18.07 L398.34,18.83 L398.87,19.83 L399.38,21.02 L399.86,22.37 L400.29,23.82 L400.68,25.51 L401.02,27.51 L401.34,29.76 L401.64,32.15 L401.93,34.62 L402.23,37.08 L402.53,39.44 L402.86,41.63 L403.21,43.69 L403.57,45.70 L403.93,47.68 L404.30,49.61 L404.68,51.51 L405.06,53.38 L405.44,55.22 L405.83,57.03 L406.23,58.85 L406.64,60.68 L407.07,62.50 L407.50,64.29 L407.92,65.99 L408.33,67.59 L408.73,69.05 L409.10,70.35 L409.45,71.45 L409.78,72.40 L410.10,73.21 L410.40,73.91 L410.70,74.53 L410.99,75.10 L411.29,75.63 L411.60,76.17 L411.89,76.69 L412.16,77.14 L412.41,77.55 L412.67,77.91 L412.95,78.24 L413.27,78.54 L413.65,78.82 L414.10,79.08 L414.55,79.32 L414.98,79.53 L415.43,79.70 L415.93,79.85 L416.53,79.98 L417.28,80.10 L418.23,80.22 L419.40,80.33 L420.86,80.45 L422.58,80.55 L424.50,80.65 L426.56,80.73 L428.70,80.81 L430.86,80.88 L432.98,80.94 L435.00,81.00 L437.06,81.04 L439.27,81.08 L441.54,81.10 L443.77,81.12 L445.89,81.14 L447.80,81.15 L449.40,81.16 L450.60,81.16" fill="none" stroke="#52B5F4" stroke-width="2.3" stroke-dasharray="5.4 2.8" stroke-linejoin="round"/>
</g>
<rect x="263.4" y="4.6" width="187.20000000000005" height="149.9" fill="none" stroke="#2a2a2a" stroke-width="1.05"/>
<line x1="294.60" y1="154.5" x2="294.60" y2="157.5" stroke="#2a2a2a" stroke-width="1"/>
<text x="294.60" y="167.00" font-size="10.0" text-anchor="middle" font-family="Liberation Sans, sans-serif" fill="#111" >350</text>
<line x1="333.60" y1="154.5" x2="333.60" y2="157.5" stroke="#2a2a2a" stroke-width="1"/>
<text x="333.60" y="167.00" font-size="10.0" text-anchor="middle" font-family="Liberation Sans, sans-serif" fill="#111" >400</text>
<line x1="372.60" y1="154.5" x2="372.60" y2="157.5" stroke="#2a2a2a" stroke-width="1"/>
<text x="372.60" y="167.00" font-size="10.0" text-anchor="middle" font-family="Liberation Sans, sans-serif" fill="#111" >450</text>
<line x1="411.60" y1="154.5" x2="411.60" y2="157.5" stroke="#2a2a2a" stroke-width="1"/>
<text x="411.60" y="167.00" font-size="10.0" text-anchor="middle" font-family="Liberation Sans, sans-serif" fill="#111" >500</text>
<line x1="450.60" y1="154.5" x2="450.60" y2="157.5" stroke="#2a2a2a" stroke-width="1"/>
<text x="450.60" y="167.00" font-size="10.0" text-anchor="middle" font-family="Liberation Sans, sans-serif" fill="#111" >550</text>
<line x1="275.10" y1="154.5" x2="275.10" y2="156.3" stroke="#2a2a2a" stroke-width="1"/>
<line x1="314.10" y1="154.5" x2="314.10" y2="156.3" stroke="#2a2a2a" stroke-width="1"/>
<line x1="353.10" y1="154.5" x2="353.10" y2="156.3" stroke="#2a2a2a" stroke-width="1"/>
<line x1="392.10" y1="154.5" x2="392.10" y2="156.3" stroke="#2a2a2a" stroke-width="1"/>
<line x1="431.10" y1="154.5" x2="431.10" y2="156.3" stroke="#2a2a2a" stroke-width="1"/>
<line x1="260.4" y1="154.40" x2="263.4" y2="154.40" stroke="#2a2a2a" stroke-width="1"/>
<text x="258.60" y="157.80" font-size="10.0" text-anchor="end" font-family="Liberation Sans, sans-serif" fill="#111" >−90</text>
<line x1="260.4" y1="129.43" x2="263.4" y2="129.43" stroke="#2a2a2a" stroke-width="1"/>
<text x="258.60" y="132.83" font-size="10.0" text-anchor="end" font-family="Liberation Sans, sans-serif" fill="#111" >−60</text>
<line x1="260.4" y1="104.47" x2="263.4" y2="104.47" stroke="#2a2a2a" stroke-width="1"/>
<text x="258.60" y="107.87" font-size="10.0" text-anchor="end" font-family="Liberation Sans, sans-serif" fill="#111" >−30</text>
<line x1="260.4" y1="79.50" x2="263.4" y2="79.50" stroke="#2a2a2a" stroke-width="1"/>
<text x="258.60" y="82.90" font-size="10.0" text-anchor="end" font-family="Liberation Sans, sans-serif" fill="#111" >0</text>
<line x1="260.4" y1="54.53" x2="263.4" y2="54.53" stroke="#2a2a2a" stroke-width="1"/>
<text x="258.60" y="57.93" font-size="10.0" text-anchor="end" font-family="Liberation Sans, sans-serif" fill="#111" >30</text>
<line x1="260.4" y1="29.57" x2="263.4" y2="29.57" stroke="#2a2a2a" stroke-width="1"/>
<text x="258.60" y="32.97" font-size="10.0" text-anchor="end" font-family="Liberation Sans, sans-serif" fill="#111" >60</text>
<line x1="260.4" y1="4.60" x2="263.4" y2="4.60" stroke="#2a2a2a" stroke-width="1"/>
<text x="258.60" y="8.00" font-size="10.0" text-anchor="end" font-family="Liberation Sans, sans-serif" fill="#111" >90</text>
<line x1="261.59999999999997" y1="141.92" x2="263.4" y2="141.92" stroke="#2a2a2a" stroke-width="1"/>
<line x1="261.59999999999997" y1="116.95" x2="263.4" y2="116.95" stroke="#2a2a2a" stroke-width="1"/>
<line x1="261.59999999999997" y1="91.98" x2="263.4" y2="91.98" stroke="#2a2a2a" stroke-width="1"/>
<line x1="261.59999999999997" y1="67.02" x2="263.4" y2="67.02" stroke="#2a2a2a" stroke-width="1"/>
<line x1="261.59999999999997" y1="42.05" x2="263.4" y2="42.05" stroke="#2a2a2a" stroke-width="1"/>
<line x1="261.59999999999997" y1="17.08" x2="263.4" y2="17.08" stroke="#2a2a2a" stroke-width="1"/>
<text x="357.00" y="178.70" font-size="12.9" text-anchor="middle" font-family="Liberation Sans, sans-serif" fill="#111" >Wavelength (nm)</text>
<text x="239.8" y="79.5" font-size="12.9" text-anchor="middle" font-family="Liberation Sans, sans-serif" fill="#111" transform="rotate(-90 239.8 79.5)">CD Intensity (mdeg)</text>
<line x1="406" y1="10.4" x2="420" y2="10.4" stroke="#4DB1F1" stroke-width="1.6" stroke-dasharray="5.3 3.5"/>
<line x1="407.3" y1="19.9" x2="421.4" y2="19.9" stroke="#4DB1F1" stroke-width="1.6"/>
<line x1="407.3" y1="29.2" x2="421.4" y2="29.2" stroke="#444" stroke-width="1.2"/>
<text x="423.2" y="12.6" font-size="6.3" font-family="Liberation Sans, sans-serif" fill="#222">(<tspan font-style="italic">S</tspan>)-<tspan font-weight="bold">1</tspan><tspan font-size="3.8" dy="1.6">NP</tspan></text>
<text x="423.2" y="22.1" font-size="6.3" font-family="Liberation Sans, sans-serif" fill="#222">(<tspan font-style="italic">R</tspan>)-<tspan font-weight="bold">1</tspan><tspan font-size="3.8" dy="1.6">NP</tspan></text>
<text x="423.2" y="31.4" font-size="6.3" font-family="Liberation Sans, sans-serif" fill="#222">(<tspan font-style="italic">R</tspan>)-<tspan font-weight="bold">1</tspan><tspan font-size="3.8" dy="1.6">mono</tspan></text>
<rect x="263.4" y="184.6" width="187" height="150.6" fill="url(#bg)"/>
<clipPath id="cd"><rect x="263.4" y="184.6" width="187" height="150.6"/></clipPath>
<g clip-path="url(#cd)">
<path d="M263.40,265.65 L263.85,265.13 L264.49,265.17 L265.21,264.59 L265.89,264.19 L266.52,263.93 L267.14,263.30 L267.76,262.96 L268.39,262.84 L269.01,262.72 L269.63,263.04 L270.26,263.06 L270.88,263.12 L271.50,263.07 L272.13,263.01 L272.75,263.21 L273.37,263.26 L274.00,262.94 L274.62,263.10 L275.24,262.81 L275.87,263.01 L276.49,262.79 L277.11,263.03 L277.74,263.01 L278.36,263.21 L278.98,262.98 L279.61,262.40 L280.23,262.11 L280.85,262.05 L281.48,261.74 L282.10,261.59 L282.72,261.80 L283.35,261.65 L283.97,261.01 L284.59,260.83 L285.22,260.99 L285.84,261.12 L286.46,261.23 L287.09,261.41 L287.71,261.70 L288.33,261.71 L288.96,261.66 L289.58,261.68 L290.20,261.11 L290.83,261.27 L291.45,261.30 L292.07,261.09 L292.70,261.45 L293.32,261.08 L293.94,261.21 L294.57,260.70 L295.19,260.15 L295.81,259.93 L296.44,260.00 L297.06,259.65 L297.68,259.60 L298.31,259.93 L298.93,260.24 L299.55,260.19 L300.18,260.76 L300.80,260.65 L301.42,260.55 L302.05,259.98 L302.67,259.73 L303.29,259.22 L303.92,259.30 L304.54,259.30 L305.16,258.96 L305.79,259.46 L306.41,259.49 L307.03,259.37 L307.66,259.77 L308.28,259.76 L308.90,259.72 L309.53,259.76 L310.15,259.95 L310.77,260.29 L311.40,260.08 L312.02,260.58 L312.64,260.97 L313.27,260.90 L313.89,261.20 L314.51,261.22 L315.14,261.34 L315.76,261.17 L316.38,261.26 L317.01,260.71 L317.63,260.38 L318.25,260.22 L318.88,260.38 L319.50,260.54 L320.12,261.19 L320.75,260.93 L321.37,261.30 L321.99,261.20 L322.62,260.96 L323.24,260.69 L323.86,260.73 L324.49,261.06 L325.11,260.79 L325.73,260.98 L326.36,260.73 L326.98,260.81 L327.60,261.07 L328.23,261.08 L328.85,260.90 L329.47,260.92 L330.10,260.68 L330.72,260.54 L331.34,260.39 L331.97,260.48 L332.59,260.45 L333.21,260.57 L333.84,260.35 L334.46,260.29 L335.08,260.26 L335.71,259.85 L336.33,260.04 L336.95,259.95 L337.58,260.49 L338.20,260.44 L338.82,260.46 L339.45,260.38 L340.07,260.08 L340.69,260.43 L341.32,260.03 L341.94,260.20 L342.56,260.41 L343.19,260.66 L343.81,260.51 L344.43,260.52 L345.06,260.16 L345.68,260.23 L346.30,260.30 L346.93,260.20 L347.55,260.23 L348.17,260.44 L348.80,260.41 L349.42,260.49 L350.04,260.65 L350.67,260.97 L351.29,260.64 L351.91,260.39 L352.54,259.97 L353.16,259.69 L353.78,259.82 L354.41,259.54 L355.03,259.54 L355.65,259.60 L356.28,259.54 L356.90,259.57 L357.52,259.76 L358.15,260.01 L358.77,259.83 L359.39,260.01 L360.02,259.96 L360.64,260.27 L361.26,260.14 L361.89,260.41 L362.51,260.73 L363.13,260.84 L363.76,261.00 L364.38,260.59 L365.00,260.84 L365.63,260.70 L366.25,261.04 L366.87,260.68 L367.50,260.92 L368.12,260.78 L368.74,260.99 L369.37,261.14 L369.99,261.28 L370.61,261.29 L371.24,260.85 L371.86,260.65 L372.48,260.44 L373.11,260.20 L373.73,260.08 L374.35,260.47 L374.98,260.65 L375.60,260.57 L376.22,260.46 L376.85,260.23 L377.47,260.25 L378.09,259.80 L378.72,260.27 L379.34,260.11 L379.96,260.40 L380.59,260.74 L381.21,260.60 L381.83,260.13 L382.46,259.84 L383.08,259.80 L383.70,259.84 L384.33,259.65 L384.95,259.77 L385.57,259.89 L386.20,260.37 L386.82,260.80 L387.44,261.04 L388.07,261.08 L388.69,261.22 L389.31,261.15 L389.94,261.12 L390.56,260.80 L391.18,260.69 L391.81,260.31 L392.43,260.02 L393.05,260.07 L393.68,259.87 L394.30,260.02 L394.92,260.15 L395.55,260.25 L396.17,260.46 L396.79,260.30 L397.42,259.92 L398.04,259.58 L398.66,259.61 L399.29,260.06 L399.91,260.16 L400.53,260.39 L401.16,260.85 L401.78,260.78 L402.40,261.07 L403.03,261.27 L403.65,260.96 L404.27,260.66 L404.90,260.46 L405.52,260.47 L406.14,259.98 L406.77,260.15 L407.39,259.87 L408.01,260.09 L408.64,259.93 L409.26,260.16 L409.88,260.47 L410.51,260.90 L411.13,260.78 L411.75,261.12 L412.38,260.97 L413.00,261.25 L413.62,261.24 L414.25,261.09 L414.87,260.71 L415.49,260.49 L416.12,260.46 L416.74,260.07 L417.36,259.68 L417.99,259.87 L418.61,259.89 L419.23,259.96 L419.86,260.12 L420.48,260.10 L421.10,260.29 L421.73,260.82 L422.35,260.79 L422.97,261.16 L423.60,260.94 L424.22,261.20 L424.84,260.94 L425.47,261.08 L426.09,261.04 L426.71,260.99 L427.34,261.00 L427.96,260.88 L428.58,260.96 L429.21,260.95 L429.83,261.24 L430.45,260.97 L431.08,260.63 L431.70,260.55 L432.32,260.25 L432.95,259.80 L433.57,260.00 L434.19,260.63 L434.82,260.86 L435.44,261.08 L436.06,260.76 L436.69,260.47 L437.31,260.57 L437.93,260.40 L438.56,260.39 L439.18,260.17 L439.80,260.52 L440.43,260.70 L441.05,260.63 L441.67,260.79 L442.30,260.73 L442.92,260.86 L443.54,260.61 L444.17,260.26 L444.79,260.45 L445.41,259.99 L446.04,260.06 L446.66,260.59 L447.28,260.71 L447.91,261.17 L448.59,260.77 L449.31,260.60 L449.95,260.31 L450.40,260.01" fill="none" stroke="#4DB1F1" stroke-width="2" stroke-linejoin="round"/>
<path d="M263.40,264.69 L263.85,264.53 L264.49,264.14 L265.21,263.78 L265.89,263.55 L266.52,263.20 L267.14,262.65 L267.76,262.49 L268.39,262.50 L269.01,262.48 L269.63,262.89 L270.26,262.92 L270.88,262.90 L271.50,262.91 L272.13,262.91 L272.75,263.13 L273.37,263.27 L274.00,262.78 L274.62,262.75 L275.24,262.52 L275.87,262.50 L276.49,262.25 L277.11,262.11 L277.74,262.36 L278.36,262.04 L278.98,261.94 L279.61,261.70 L280.23,261.18 L280.85,261.07 L281.48,260.87 L282.10,260.44 L282.72,260.49 L283.35,260.66 L283.97,260.52 L284.59,260.25 L285.22,260.63 L285.84,260.51 L286.46,260.36 L287.09,260.38 L287.71,260.16 L288.33,260.30 L288.96,259.99 L289.58,260.12 L290.20,260.15 L290.83,259.75 L291.45,259.87 L292.07,260.21 L292.70,260.53 L293.32,260.24 L293.94,260.24 L294.57,260.12 L295.19,259.67 L295.81,259.48 L296.44,259.83 L297.06,259.88 L297.68,259.95 L298.31,259.90 L298.93,259.42 L299.55,259.19 L300.18,258.82 L300.80,258.66 L301.42,258.66 L302.05,259.01 L302.67,259.64 L303.29,259.91 L303.92,259.73 L304.54,259.47 L305.16,258.80 L305.79,258.65 L306.41,258.82 L307.03,259.33 L307.66,259.84 L308.28,260.18 L308.90,259.71 L309.53,259.70 L310.15,259.51 L310.77,259.37 L311.40,259.30 L312.02,259.34 L312.64,259.70 L313.27,259.99 L313.89,260.13 L314.51,259.84 L315.14,259.84 L315.76,259.78 L316.38,259.45 L317.01,259.67 L317.63,259.15 L318.25,259.15 L318.88,259.63 L319.50,259.91 L320.12,260.05 L320.75,260.64 L321.37,260.69 L321.99,260.58 L322.62,260.46 L323.24,260.53 L323.86,260.29 L324.49,259.76 L325.11,259.20 L325.73,259.26 L326.36,259.17 L326.98,259.48 L327.60,259.65 L328.23,259.78 L328.85,260.09 L329.47,260.09 L330.10,260.35 L330.72,260.44 L331.34,260.05 L331.97,259.49 L332.59,259.41 L333.21,258.98 L333.84,258.83 L334.46,258.85 L335.08,258.79 L335.71,259.20 L336.33,259.19 L336.95,259.56 L337.58,260.13 L338.20,260.28 L338.82,260.17 L339.45,259.89 L340.07,259.88 L340.69,259.77 L341.32,259.90 L341.94,260.09 L342.56,260.06 L343.19,260.03 L343.81,260.02 L344.43,260.20 L345.06,260.30 L345.68,260.10 L346.30,260.07 L346.93,259.52 L347.55,259.41 L348.17,259.62 L348.80,259.60 L349.42,259.84 L350.04,260.28 L350.67,260.00 L351.29,260.29 L351.91,259.63 L352.54,259.56 L353.16,259.48 L353.78,259.58 L354.41,259.95 L355.03,260.07 L355.65,260.24 L356.28,260.51 L356.90,260.63 L357.52,260.10 L358.15,260.00 L358.77,260.21 L359.39,259.44 L360.02,259.19 L360.64,259.23 L361.26,259.19 L361.89,259.58 L362.51,259.68 L363.13,260.00 L363.76,259.70 L364.38,259.75 L365.00,259.71 L365.63,259.97 L366.25,260.01 L366.87,259.61 L367.50,259.46 L368.12,259.34 L368.74,259.41 L369.37,259.86 L369.99,259.91 L370.61,259.95 L371.24,259.60 L371.86,259.57 L372.48,260.06 L373.11,259.98 L373.73,260.21 L374.35,260.41 L374.98,260.56 L375.60,260.16 L376.22,260.43 L376.85,259.97 L377.47,259.85 L378.09,259.21 L378.72,259.16 L379.34,258.93 L379.96,259.18 L380.59,259.04 L381.21,259.14 L381.83,258.97 L382.46,259.09 L383.08,258.92 L383.70,258.85 L384.33,258.97 L384.95,259.11 L385.57,259.22 L386.20,259.70 L386.82,259.83 L387.44,260.08 L388.07,260.06 L388.69,259.81 L389.31,259.81 L389.94,259.89 L390.56,259.83 L391.18,259.62 L391.81,259.79 L392.43,259.62 L393.05,259.37 L393.68,259.40 L394.30,259.39 L394.92,259.39 L395.55,259.49 L396.17,259.68 L396.79,260.11 L397.42,260.02 L398.04,260.07 L398.66,260.13 L399.29,260.31 L399.91,260.16 L400.53,260.31 L401.16,260.07 L401.78,260.21 L402.40,260.13 L403.03,259.83 L403.65,259.72 L404.27,259.89 L404.90,259.71 L405.52,259.51 L406.14,259.34 L406.77,259.58 L407.39,259.53 L408.01,259.35 L408.64,259.09 L409.26,259.15 L409.88,259.60 L410.51,259.65 L411.13,260.12 L411.75,260.14 L412.38,260.46 L413.00,260.18 L413.62,259.97 L414.25,259.95 L414.87,259.49 L415.49,259.41 L416.12,259.19 L416.74,259.47 L417.36,259.65 L417.99,259.94 L418.61,259.86 L419.23,259.92 L419.86,259.51 L420.48,259.75 L421.10,259.69 L421.73,260.05 L422.35,260.00 L422.97,259.95 L423.60,259.84 L424.22,259.99 L424.84,259.69 L425.47,259.94 L426.09,260.00 L426.71,259.77 L427.34,260.01 L427.96,259.95 L428.58,259.76 L429.21,259.31 L429.83,259.57 L430.45,259.19 L431.08,259.25 L431.70,259.93 L432.32,260.35 L432.95,260.45 L433.57,260.30 L434.19,259.90 L434.82,259.98 L435.44,259.61 L436.06,259.82 L436.69,260.05 L437.31,260.06 L437.93,260.43 L438.56,260.00 L439.18,259.86 L439.80,259.36 L440.43,259.27 L441.05,259.55 L441.67,259.70 L442.30,260.30 L442.92,260.24 L443.54,260.30 L444.17,260.48 L444.79,260.32 L445.41,260.26 L446.04,260.14 L446.66,259.90 L447.28,259.89 L447.91,260.07 L448.59,259.86 L449.31,259.92 L449.95,259.79 L450.40,259.46" fill="none" stroke="#F96B6D" stroke-width="2" stroke-linejoin="round"/>
</g>
<rect x="263.4" y="184.6" width="187.0" height="150.6" fill="none" stroke="#2a2a2a" stroke-width="1.05"/>
<line x1="263.40" y1="335.2" x2="263.40" y2="338.2" stroke="#2a2a2a" stroke-width="1"/>
<text x="263.40" y="347.70" font-size="10.0" text-anchor="middle" font-family="Liberation Sans, sans-serif" fill="#111" >300</text>
<line x1="294.57" y1="335.2" x2="294.57" y2="338.2" stroke="#2a2a2a" stroke-width="1"/>
<text x="294.57" y="347.70" font-size="10.0" text-anchor="middle" font-family="Liberation Sans, sans-serif" fill="#111" >350</text>
<line x1="325.73" y1="335.2" x2="325.73" y2="338.2" stroke="#2a2a2a" stroke-width="1"/>
<text x="325.73" y="347.70" font-size="10.0" text-anchor="middle" font-family="Liberation Sans, sans-serif" fill="#111" >400</text>
<line x1="356.90" y1="335.2" x2="356.90" y2="338.2" stroke="#2a2a2a" stroke-width="1"/>
<text x="356.90" y="347.70" font-size="10.0" text-anchor="middle" font-family="Liberation Sans, sans-serif" fill="#111" >450</text>
<line x1="388.07" y1="335.2" x2="388.07" y2="338.2" stroke="#2a2a2a" stroke-width="1"/>
<text x="388.07" y="347.70" font-size="10.0" text-anchor="middle" font-family="Liberation Sans, sans-serif" fill="#111" >500</text>
<line x1="419.23" y1="335.2" x2="419.23" y2="338.2" stroke="#2a2a2a" stroke-width="1"/>
<text x="419.23" y="347.70" font-size="10.0" text-anchor="middle" font-family="Liberation Sans, sans-serif" fill="#111" >550</text>
<line x1="450.40" y1="335.2" x2="450.40" y2="338.2" stroke="#2a2a2a" stroke-width="1"/>
<text x="450.40" y="347.70" font-size="10.0" text-anchor="middle" font-family="Liberation Sans, sans-serif" fill="#111" >600</text>
<line x1="278.98" y1="335.2" x2="278.98" y2="337.0" stroke="#2a2a2a" stroke-width="1"/>
<line x1="310.15" y1="335.2" x2="310.15" y2="337.0" stroke="#2a2a2a" stroke-width="1"/>
<line x1="341.32" y1="335.2" x2="341.32" y2="337.0" stroke="#2a2a2a" stroke-width="1"/>
<line x1="372.48" y1="335.2" x2="372.48" y2="337.0" stroke="#2a2a2a" stroke-width="1"/>
<line x1="403.65" y1="335.2" x2="403.65" y2="337.0" stroke="#2a2a2a" stroke-width="1"/>
<line x1="434.82" y1="335.2" x2="434.82" y2="337.0" stroke="#2a2a2a" stroke-width="1"/>
<line x1="260.4" y1="335.10" x2="263.4" y2="335.10" stroke="#2a2a2a" stroke-width="1"/>
<text x="258.60" y="338.50" font-size="10.0" text-anchor="end" font-family="Liberation Sans, sans-serif" fill="#111" >−0.010</text>
<line x1="260.4" y1="297.48" x2="263.4" y2="297.48" stroke="#2a2a2a" stroke-width="1"/>
<text x="258.60" y="300.88" font-size="10.0" text-anchor="end" font-family="Liberation Sans, sans-serif" fill="#111" >−0.005</text>
<line x1="260.4" y1="259.85" x2="263.4" y2="259.85" stroke="#2a2a2a" stroke-width="1"/>
<text x="258.60" y="263.25" font-size="10.0" text-anchor="end" font-family="Liberation Sans, sans-serif" fill="#111" >0.000</text>
<line x1="260.4" y1="222.23" x2="263.4" y2="222.23" stroke="#2a2a2a" stroke-width="1"/>
<text x="258.60" y="225.63" font-size="10.0" text-anchor="end" font-family="Liberation Sans, sans-serif" fill="#111" >0.005</text>
<line x1="260.4" y1="184.60" x2="263.4" y2="184.60" stroke="#2a2a2a" stroke-width="1"/>
<text x="258.60" y="188.00" font-size="10.0" text-anchor="end" font-family="Liberation Sans, sans-serif" fill="#111" >0.010</text>
<line x1="261.59999999999997" y1="316.29" x2="263.4" y2="316.29" stroke="#2a2a2a" stroke-width="1"/>
<line x1="261.59999999999997" y1="278.66" x2="263.4" y2="278.66" stroke="#2a2a2a" stroke-width="1"/>
<line x1="261.59999999999997" y1="241.04" x2="263.4" y2="241.04" stroke="#2a2a2a" stroke-width="1"/>
<line x1="261.59999999999997" y1="203.41" x2="263.4" y2="203.41" stroke="#2a2a2a" stroke-width="1"/>
<text x="356.90" y="359.20" font-size="12.9" text-anchor="middle" font-family="Liberation Sans, sans-serif" fill="#111" >Wavelength (nm)</text>
<text x="231.3" y="259.8" font-size="12.9" text-anchor="middle" font-family="Liberation Sans, sans-serif" fill="#111" transform="rotate(-90 231.3 259.8)">LD Indensity (dOD)</text>
<line x1="403.3" y1="191.5" x2="422.2" y2="191.5" stroke="#4DB1F1" stroke-width="1.6"/>
<line x1="403.3" y1="202.8" x2="422.2" y2="202.8" stroke="#F96B6D" stroke-width="1.6"/>
<text x="423.4" y="194.3" font-size="7.8" font-family="Liberation Sans, sans-serif" fill="#222">(<tspan font-style="italic">R</tspan>)-<tspan font-weight="bold">1</tspan><tspan font-size="5.2" dy="1.6">NP</tspan></text>
<text x="423.4" y="205.6" font-size="7.8" font-family="Liberation Sans, sans-serif" fill="#222">(<tspan font-style="italic">S</tspan>)-<tspan font-weight="bold">1</tspan><tspan font-size="5.2" dy="1.6">NP</tspan></text>
<rect x="490.6" y="4.3" width="186.2" height="150.1" fill="url(#bg)"/>
<clipPath id="ce"><rect x="490.6" y="4.3" width="186.2" height="150.1"/></clipPath>
<g clip-path="url(#ce)">
<path d="M490.23,79.43 L490.34,79.63 L490.48,78.95 L490.65,78.04 L490.85,76.98 L491.09,77.00 L491.34,76.51 L491.64,75.80 L491.98,75.51 L492.35,74.99 L492.74,74.56 L493.13,74.90 L493.50,75.09 L493.87,74.42 L494.25,75.27 L494.62,74.61 L495.00,74.70 L495.37,74.64 L495.74,76.05 L496.09,76.07 L496.42,76.64 L496.74,76.81 L497.09,76.69 L497.47,77.75 L497.90,78.79 L498.40,79.37 L498.95,81.59 L499.54,82.23 L500.15,83.38 L500.75,85.58 L501.33,86.09 L501.89,88.37 L502.48,89.14 L503.05,90.61 L503.61,91.68 L504.13,93.10 L504.60,93.90 L504.99,94.85 L505.31,96.99 L505.58,97.32 L505.87,98.91 L506.20,98.94 L506.61,100.27 L507.12,100.25 L507.69,99.87 L508.31,99.44 L508.96,98.62 L509.61,98.09 L510.26,96.59 L510.91,96.13 L511.58,95.49 L512.26,93.56 L512.94,93.22 L513.61,92.00 L514.28,90.35 L514.93,89.30 L515.55,88.41 L516.17,87.37 L516.81,87.21 L517.49,85.68 L518.23,84.58 L519.04,84.17 L519.92,84.60 L520.83,84.70 L521.76,83.90 L522.69,83.65 L523.59,83.36 L524.49,83.11 L525.41,81.90 L526.32,81.75 L527.22,81.06 L528.08,80.53 L528.88,79.45 L529.57,78.95 L530.12,78.71 L530.65,78.96 L531.22,77.84 L531.95,77.72 L532.90,76.95 L534.13,76.27 L535.55,75.78 L537.11,76.24 L538.77,75.77 L540.46,74.88 L542.14,74.86 L543.78,74.48 L545.44,74.39 L547.13,74.11 L548.88,73.13 L550.74,73.53 L552.72,73.23 L554.93,72.56 L557.38,72.72 L559.93,72.09 L562.44,71.80 L564.77,71.50 L566.79,72.09 L568.47,71.03 L569.92,70.70 L571.18,71.35 L572.33,71.12 L573.43,70.63 L574.54,71.00 L575.62,70.14 L576.62,70.58 L577.56,70.86 L578.48,71.27 L579.40,71.16 L580.35,71.12 L581.32,71.40 L582.28,71.95 L583.25,71.88 L584.22,71.38 L585.19,70.82 L586.16,70.30 L587.15,70.88 L588.17,70.04 L589.18,69.95 L590.17,68.77 L591.11,68.67 L591.97,69.15 L592.72,68.83 L593.40,68.62 L594.02,67.99 L594.62,67.57 L595.21,67.68 L595.84,68.13 L596.51,67.85 L597.19,68.70 L597.87,69.10 L598.55,70.47 L599.19,70.34 L599.79,71.86 L600.33,72.82 L600.83,72.34 L601.31,73.66 L601.76,74.35 L602.22,75.24 L602.69,75.55 L603.17,75.80 L603.63,76.64 L604.09,77.96 L604.56,78.54 L605.06,78.24 L605.60,78.77 L606.18,79.35 L606.79,79.86 L607.43,80.94 L608.09,81.07 L608.74,82.34 L609.40,82.33 L610.05,81.78 L610.73,82.21 L611.41,81.78 L612.08,81.75 L612.73,81.15 L613.34,80.82 L613.92,80.53 L614.47,80.36 L615.00,80.33 L615.51,79.73 L616.00,78.79 L616.47,79.40 L616.90,79.46 L617.28,79.22 L617.64,79.19 L618.02,78.36 L618.44,79.25 L618.93,79.43 L619.51,81.32 L620.16,82.02 L620.85,84.31 L621.56,85.51 L622.27,87.80 L622.95,88.97 L623.63,90.23 L624.32,92.30 L625.01,93.85 L625.68,96.14 L626.32,96.85 L626.90,98.32 L627.39,99.45 L627.81,100.93 L628.20,100.76 L628.58,102.01 L629.00,102.30 L629.51,102.64 L630.09,102.64 L630.74,101.25 L631.43,100.86 L632.13,99.59 L632.84,98.42 L633.53,96.52 L634.20,95.96 L634.87,94.47 L635.54,91.88 L636.21,89.93 L636.88,88.84 L637.55,85.95 L638.24,84.07 L638.94,82.13 L639.65,81.08 L640.34,79.18 L640.98,77.18 L641.57,76.06 L641.99,74.35 L642.25,74.41 L642.46,73.67 L642.77,73.39 L643.29,72.90 L644.18,72.56 L645.49,71.96 L647.13,71.39 L649.00,71.54 L650.98,71.05 L652.96,71.41 L654.83,71.44 L656.60,71.33 L658.35,71.13 L660.11,71.05 L661.88,71.43 L663.67,71.74 L665.48,72.03 L667.46,72.47 L669.62,71.43 L671.81,71.89 L673.84,71.89 L675.56,72.14 L676.80,72.34" fill="none" stroke="#F96B6D" stroke-width="2.1" stroke-linejoin="round"/>
<path d="M489.86,92.44 L490.02,92.50 L490.26,93.13 L490.53,93.50 L490.83,94.09 L491.11,93.89 L491.34,93.36 L491.54,91.45 L491.72,90.24 L491.89,87.14 L492.05,85.10 L492.21,83.52 L492.39,82.75 L492.57,82.84 L492.75,82.32 L492.94,83.96 L493.13,85.48 L493.32,87.16 L493.50,88.27 L493.68,90.09 L493.84,90.81 L494.00,92.49 L494.17,94.80 L494.38,96.12 L494.62,97.46 L494.91,98.82 L495.24,101.85 L495.59,103.55 L495.97,105.03 L496.37,107.43 L496.78,110.17 L497.20,112.67 L497.63,114.70 L498.08,118.27 L498.56,120.21 L499.06,122.95 L499.61,126.60 L500.21,128.97 L500.86,133.39 L501.55,136.57 L502.25,140.55 L502.95,142.87 L503.63,144.59 L504.31,145.65 L504.98,144.41 L505.65,143.01 L506.33,141.36 L506.99,138.74 L507.66,136.36 L508.31,134.07 L508.95,130.82 L509.59,127.32 L510.23,124.88 L510.88,120.41 L511.53,118.59 L512.18,116.36 L512.81,113.94 L513.45,111.10 L514.11,109.90 L514.81,107.51 L515.55,106.43 L516.34,104.70 L517.16,102.30 L518.02,100.23 L518.92,99.20 L519.86,96.92 L520.84,95.53 L521.87,94.06 L522.95,92.98 L524.06,90.68 L525.22,88.82 L526.41,88.19 L527.62,86.84 L528.85,85.18 L530.11,83.35 L531.41,82.41 L532.73,81.64 L534.10,80.84 L535.51,79.48 L536.97,79.35 L538.46,78.60 L539.99,77.96 L541.57,77.21 L543.18,75.43 L544.82,75.55 L546.51,74.32 L548.25,74.83 L550.02,74.12 L551.82,73.69 L553.64,72.57 L555.47,72.10 L557.37,72.93 L559.36,72.65 L561.37,72.72 L563.33,72.59 L565.16,73.00 L566.79,72.23 L568.21,71.82 L569.46,71.49 L570.59,70.90 L571.62,70.78 L572.61,70.58 L573.57,69.00 L574.50,68.47 L575.36,68.46 L576.17,68.10 L576.94,66.94 L577.68,66.62 L578.41,66.10 L579.11,65.99 L579.77,66.65 L580.41,67.06 L581.03,67.28 L581.65,66.94 L582.28,67.19 L582.92,68.76 L583.54,68.94 L584.16,69.53 L584.79,70.53 L585.45,70.95 L586.16,70.63 L586.92,69.45 L587.72,69.39 L588.56,67.29 L589.41,65.66 L590.25,64.72 L591.07,63.82 L591.90,62.92 L592.74,61.24 L593.58,60.90 L594.39,59.76 L595.16,58.76 L595.84,59.50 L596.43,59.72 L596.95,60.47 L597.41,61.09 L597.85,61.64 L598.28,63.70 L598.74,65.35 L599.23,66.59 L599.71,69.12 L600.20,71.43 L600.68,72.97 L601.17,75.93 L601.65,77.98 L602.13,79.70 L602.62,80.53 L603.10,82.77 L603.59,84.84 L604.07,86.49 L604.55,88.25 L605.03,89.73 L605.48,90.80 L605.94,93.43 L606.41,94.31 L606.91,95.78 L607.46,95.39 L608.06,96.27 L608.70,95.01 L609.37,94.23 L610.06,92.90 L610.74,91.74 L611.41,89.82 L612.07,88.16 L612.74,87.05 L613.41,85.17 L614.06,84.17 L614.69,83.32 L615.28,81.97 L615.83,81.36 L616.34,81.25 L616.82,82.05 L617.29,82.77 L617.74,82.72 L618.18,84.33 L618.61,84.54 L619.01,85.26 L619.39,87.34 L619.78,88.09 L620.16,90.23 L620.57,91.87 L620.98,94.08 L621.38,97.47 L621.79,101.32 L622.21,105.43 L622.67,109.51 L623.17,113.31 L623.74,117.16 L624.37,120.94 L625.04,125.53 L625.70,129.67 L626.33,133.61 L626.90,136.47 L627.40,139.39 L627.84,141.47 L628.26,142.69 L628.67,145.07 L629.08,145.68 L629.51,146.41 L629.94,146.37 L630.37,146.03 L630.79,145.60 L631.24,143.53 L631.73,141.73 L632.26,138.79 L632.87,136.33 L633.56,132.00 L634.28,127.23 L635.00,122.80 L635.68,116.93 L636.28,112.63 L636.80,109.35 L637.25,105.62 L637.67,101.51 L638.07,97.45 L638.47,94.58 L638.89,92.16 L639.33,88.96 L639.78,86.35 L640.23,83.92 L640.68,82.14 L641.13,80.26 L641.57,78.82 L641.95,77.82 L642.24,76.81 L642.54,75.70 L642.91,75.09 L643.43,75.41 L644.18,75.02 L645.14,74.80 L646.26,73.52 L647.53,74.12 L648.95,73.98 L650.52,72.79 L652.22,73.00 L654.15,73.42 L656.33,72.86 L658.65,73.89 L661.01,73.30 L663.32,73.98 L665.48,73.57 L667.61,73.50 L669.82,73.49 L671.97,73.86 L673.94,74.13 L675.59,73.47 L676.80,74.07" fill="none" stroke="#52B5F4" stroke-width="2.3" stroke-linejoin="round"/>
<path d="M490.60,63.20 L490.77,63.47 L491.00,63.84 L491.27,64.27 L491.57,64.74 L491.89,65.24 L492.21,65.75 L492.53,66.23 L492.83,66.67 L493.12,67.14 L493.41,67.70 L493.70,68.29 L494.00,68.86 L494.30,69.34 L494.60,69.70 L494.90,69.87 L495.22,69.79 L495.53,69.45 L495.85,68.90 L496.17,68.18 L496.50,67.31 L496.83,66.35 L497.17,65.31 L497.53,64.25 L497.90,63.20 L498.29,62.12 L498.69,60.93 L499.11,59.67 L499.53,58.38 L499.96,57.06 L500.40,55.75 L500.83,54.48 L501.25,53.27 L501.68,52.10 L502.12,50.92 L502.57,49.74 L503.01,48.59 L503.44,47.48 L503.86,46.42 L504.25,45.42 L504.60,44.49 L504.91,43.60 L505.16,42.71 L505.38,41.86 L505.58,41.07 L505.79,40.37 L506.02,39.80 L506.29,39.40 L506.61,39.18 L506.99,39.18 L507.40,39.36 L507.84,39.69 L508.30,40.16 L508.78,40.73 L509.29,41.37 L509.81,42.06 L510.34,42.76 L510.89,43.53 L511.47,44.40 L512.07,45.36 L512.69,46.37 L513.32,47.41 L513.95,48.44 L514.57,49.44 L515.18,50.38 L515.78,51.30 L516.37,52.24 L516.96,53.17 L517.56,54.09 L518.15,54.97 L518.74,55.79 L519.34,56.54 L519.95,57.20 L520.56,57.76 L521.19,58.23 L521.83,58.63 L522.46,58.97 L523.09,59.28 L523.71,59.55 L524.30,59.82 L524.86,60.09 L525.38,60.33 L525.86,60.52 L526.32,60.67 L526.76,60.81 L527.20,60.95 L527.66,61.12 L528.14,61.32 L528.66,61.59 L529.21,61.92 L529.79,62.30 L530.38,62.71 L530.99,63.15 L531.62,63.61 L532.26,64.06 L532.91,64.51 L533.57,64.94 L534.25,65.34 L534.94,65.74 L535.65,66.13 L536.36,66.52 L537.10,66.91 L537.84,67.32 L538.61,67.73 L539.38,68.17 L540.15,68.65 L540.90,69.17 L541.65,69.73 L542.42,70.28 L543.23,70.82 L544.12,71.31 L545.08,71.75 L546.16,72.10 L547.35,72.37 L548.62,72.58 L549.97,72.73 L551.39,72.84 L552.87,72.92 L554.41,72.97 L556.00,73.00 L557.63,73.02 L559.38,73.02 L561.28,72.97 L563.28,72.89 L565.31,72.79 L567.31,72.69 L569.22,72.58 L570.98,72.50 L572.53,72.44 L573.84,72.40 L574.98,72.36 L575.98,72.31 L576.88,72.28 L577.73,72.27 L578.56,72.29 L579.42,72.34 L580.35,72.44 L581.34,72.62 L582.35,72.87 L583.37,73.16 L584.38,73.48 L585.38,73.81 L586.36,74.10 L587.29,74.35 L588.17,74.52 L589.00,74.64 L589.79,74.74 L590.54,74.80 L591.26,74.83 L591.96,74.83 L592.65,74.78 L593.32,74.68 L593.98,74.52 L594.64,74.32 L595.29,74.07 L595.92,73.78 L596.54,73.44 L597.14,73.06 L597.71,72.63 L598.25,72.16 L598.74,71.64 L599.20,71.05 L599.60,70.38 L599.97,69.65 L600.31,68.88 L600.64,68.09 L600.97,67.32 L601.30,66.56 L601.65,65.86 L602.01,65.19 L602.38,64.51 L602.74,63.85 L603.10,63.20 L603.47,62.57 L603.83,61.97 L604.19,61.41 L604.55,60.89 L604.91,60.39 L605.26,59.87 L605.60,59.36 L605.94,58.90 L606.29,58.50 L606.66,58.20 L607.05,58.03 L607.46,58.01 L607.90,58.17 L608.35,58.51 L608.83,58.98 L609.32,59.55 L609.82,60.16 L610.34,60.79 L610.87,61.40 L611.41,61.93 L611.98,62.44 L612.58,62.96 L613.22,63.49 L613.86,64.02 L614.49,64.53 L615.09,65.02 L615.66,65.46 L616.17,65.86 L616.63,66.24 L617.03,66.62 L617.40,66.98 L617.75,67.31 L618.08,67.57 L618.40,67.76 L618.73,67.85 L619.08,67.82 L619.43,67.71 L619.79,67.54 L620.14,67.30 L620.49,66.97 L620.84,66.52 L621.19,65.95 L621.55,65.24 L621.91,64.36 L622.27,63.25 L622.64,61.90 L623.00,60.36 L623.37,58.72 L623.75,57.03 L624.12,55.36 L624.50,53.78 L624.89,52.35 L625.28,51.00 L625.70,49.65 L626.12,48.33 L626.54,47.05 L626.96,45.85 L627.36,44.76 L627.74,43.80 L628.09,42.99 L628.40,42.34 L628.68,41.79 L628.93,41.37 L629.17,41.05 L629.41,40.85 L629.67,40.76 L629.94,40.78 L630.25,40.91 L630.59,41.17 L630.96,41.55 L631.35,42.06 L631.75,42.67 L632.16,43.38 L632.57,44.18 L632.98,45.05 L633.38,46.00 L633.78,47.06 L634.18,48.27 L634.58,49.59 L634.98,50.98 L635.39,52.40 L635.79,53.82 L636.19,55.20 L636.58,56.51 L636.96,57.76 L637.33,59.02 L637.68,60.27 L638.04,61.50 L638.41,62.70 L638.79,63.85 L639.20,64.95 L639.63,65.98 L640.06,66.96 L640.46,67.92 L640.86,68.84 L641.29,69.70 L641.77,70.50 L642.35,71.21 L643.04,71.83 L643.88,72.33 L644.82,72.69 L645.80,72.93 L646.87,73.05 L648.04,73.09 L649.35,73.09 L650.84,73.05 L652.53,73.02 L654.46,73.02 L656.84,73.03 L659.74,73.00 L662.96,72.95 L666.29,72.89 L669.54,72.83 L672.51,72.76 L675.00,72.71 L676.80,72.68" fill="none" stroke="#F96B6D" stroke-width="2.1" stroke-dasharray="5 3" stroke-linejoin="round"/>
<path d="M490.23,66.55 L490.44,66.70 L490.71,66.96 L491.03,67.28 L491.40,67.59 L491.79,67.84 L492.19,67.97 L492.59,67.90 L492.98,67.59 L493.38,67.01 L493.81,66.20 L494.25,65.21 L494.70,64.09 L495.14,62.88 L495.57,61.65 L495.97,60.43 L496.33,59.28 L496.67,58.15 L496.97,57.00 L497.26,55.82 L497.52,54.63 L497.78,53.43 L498.02,52.25 L498.26,51.07 L498.49,49.92 L498.73,48.81 L498.94,47.71 L499.15,46.64 L499.36,45.57 L499.55,44.50 L499.75,43.41 L499.94,42.29 L500.13,41.14 L500.32,39.96 L500.50,38.73 L500.68,37.49 L500.85,36.23 L501.03,34.96 L501.22,33.70 L501.41,32.44 L501.62,31.21 L501.85,29.95 L502.10,28.64 L502.36,27.31 L502.62,26.00 L502.88,24.74 L503.15,23.57 L503.40,22.52 L503.63,21.62 L503.86,20.88 L504.07,20.25 L504.27,19.73 L504.47,19.30 L504.67,18.96 L504.87,18.70 L505.07,18.51 L505.27,18.39 L505.48,18.35 L505.68,18.41 L505.88,18.56 L506.08,18.78 L506.29,19.06 L506.51,19.39 L506.74,19.75 L506.99,20.12 L507.24,20.52 L507.50,20.95 L507.76,21.41 L508.04,21.92 L508.34,22.48 L508.65,23.09 L509.00,23.77 L509.37,24.51 L509.78,25.34 L510.23,26.25 L510.72,27.23 L511.22,28.26 L511.73,29.33 L512.24,30.42 L512.75,31.51 L513.24,32.60 L513.72,33.72 L514.19,34.93 L514.67,36.17 L515.14,37.42 L515.61,38.64 L516.08,39.78 L516.56,40.82 L517.04,41.72 L517.52,42.47 L518.00,43.09 L518.47,43.62 L518.95,44.08 L519.44,44.48 L519.94,44.86 L520.45,45.24 L520.99,45.65 L521.54,46.02 L522.12,46.31 L522.71,46.55 L523.31,46.80 L523.92,47.08 L524.53,47.43 L525.15,47.91 L525.75,48.54 L526.36,49.35 L526.95,50.32 L527.55,51.40 L528.15,52.56 L528.75,53.76 L529.37,54.96 L530.01,56.12 L530.67,57.20 L531.35,58.24 L532.04,59.29 L532.74,60.34 L533.46,61.36 L534.19,62.36 L534.94,63.29 L535.70,64.16 L536.48,64.94 L537.27,65.62 L538.08,66.21 L538.90,66.73 L539.74,67.20 L540.60,67.64 L541.47,68.05 L542.35,68.45 L543.26,68.86 L544.18,69.29 L545.13,69.72 L546.10,70.14 L547.08,70.53 L548.08,70.90 L549.08,71.23 L550.08,71.52 L551.08,71.75 L552.09,71.91 L553.14,71.99 L554.20,72.02 L555.26,72.01 L556.30,72.00 L557.32,71.99 L558.29,72.02 L559.20,72.10 L560.04,72.22 L560.83,72.36 L561.58,72.52 L562.30,72.70 L562.99,72.89 L563.68,73.11 L564.37,73.34 L565.08,73.60 L565.79,73.88 L566.49,74.19 L567.19,74.52 L567.88,74.86 L568.57,75.23 L569.26,75.60 L569.96,75.98 L570.67,76.37 L571.37,76.79 L572.06,77.25 L572.74,77.74 L573.44,78.23 L574.15,78.70 L574.88,79.14 L575.66,79.53 L576.48,79.84 L577.37,80.06 L578.34,80.21 L579.37,80.30 L580.41,80.36 L581.44,80.41 L582.44,80.46 L583.38,80.53 L584.22,80.65 L584.96,80.78 L585.63,80.89 L586.25,81.01 L586.82,81.14 L587.37,81.31 L587.92,81.52 L588.47,81.79 L589.06,82.15 L589.68,82.62 L590.31,83.22 L590.95,83.89 L591.59,84.61 L592.21,85.32 L592.83,85.98 L593.42,86.56 L593.98,87.00 L594.51,87.35 L595.00,87.66 L595.48,87.93 L595.94,88.12 L596.40,88.24 L596.85,88.25 L597.31,88.15 L597.78,87.92 L598.27,87.55 L598.79,87.04 L599.31,86.42 L599.83,85.70 L600.34,84.89 L600.82,84.02 L601.26,83.10 L601.65,82.15 L601.98,81.12 L602.26,79.97 L602.50,78.75 L602.71,77.48 L602.91,76.18 L603.12,74.89 L603.34,73.63 L603.59,72.44 L603.86,71.30 L604.15,70.16 L604.44,69.03 L604.75,67.93 L605.05,66.84 L605.36,65.79 L605.66,64.76 L605.97,63.78 L606.26,62.78 L606.55,61.72 L606.82,60.66 L607.11,59.65 L607.40,58.74 L607.71,57.97 L608.05,57.40 L608.43,57.08 L608.84,57.06 L609.30,57.29 L609.78,57.74 L610.28,58.33 L610.79,59.00 L611.30,59.69 L611.81,60.34 L612.30,60.89 L612.79,61.38 L613.30,61.86 L613.81,62.35 L614.32,62.84 L614.82,63.33 L615.30,63.82 L615.75,64.32 L616.17,64.82 L616.55,65.43 L616.89,66.19 L617.19,67.00 L617.49,67.80 L617.77,68.48 L618.06,68.96 L618.37,69.16 L618.71,68.98 L619.07,68.46 L619.45,67.70 L619.84,66.70 L620.24,65.48 L620.64,64.04 L621.04,62.41 L621.44,60.59 L621.83,58.58 L622.22,56.29 L622.60,53.63 L622.98,50.71 L623.36,47.63 L623.73,44.48 L624.12,41.36 L624.50,38.37 L624.89,35.60 L625.29,32.95 L625.70,30.26 L626.12,27.60 L626.54,25.02 L626.96,22.58 L627.36,20.33 L627.74,18.34 L628.09,16.66 L628.40,15.27 L628.68,14.10 L628.93,13.15 L629.17,12.42 L629.41,11.89 L629.67,11.56 L629.94,11.42 L630.25,11.46 L630.59,11.68 L630.96,12.08 L631.35,12.67 L631.75,13.46 L632.16,14.45 L632.57,15.66 L632.98,17.08 L633.38,18.74 L633.78,20.74 L634.18,23.13 L634.58,25.80 L634.98,28.66 L635.39,31.58 L635.79,34.48 L636.19,37.24 L636.58,39.76 L636.97,42.08 L637.35,44.34 L637.73,46.53 L638.11,48.65 L638.48,50.71 L638.86,52.70 L639.25,54.64 L639.63,56.51 L640.03,58.35 L640.43,60.17 L640.83,61.94 L641.23,63.65 L641.64,65.25 L642.04,66.73 L642.44,68.06 L642.84,69.21 L643.20,70.16 L643.50,70.93 L643.78,71.54 L644.07,72.03 L644.40,72.43 L644.81,72.77 L645.32,73.07 L645.97,73.37 L646.68,73.63 L647.39,73.82 L648.15,73.94 L649.01,74.01 L650.02,74.06 L651.23,74.09 L652.70,74.12 L654.46,74.18 L656.74,74.25 L659.59,74.30 L662.80,74.36 L666.16,74.40 L669.45,74.44 L672.46,74.47 L674.98,74.50 L676.80,74.52" fill="none" stroke="#52B5F4" stroke-width="2.3" stroke-dasharray="5 3" stroke-linejoin="round"/>
</g>
<rect x="490.6" y="4.3" width="186.19999999999993" height="150.1" fill="none" stroke="#2a2a2a" stroke-width="1.05"/>
<line x1="490.60" y1="154.4" x2="490.60" y2="157.4" stroke="#2a2a2a" stroke-width="1"/>
<text x="490.60" y="166.90" font-size="10.0" text-anchor="middle" font-family="Liberation Sans, sans-serif" fill="#111" >300</text>
<line x1="527.84" y1="154.4" x2="527.84" y2="157.4" stroke="#2a2a2a" stroke-width="1"/>
<text x="527.84" y="166.90" font-size="10.0" text-anchor="middle" font-family="Liberation Sans, sans-serif" fill="#111" >350</text>
<line x1="565.08" y1="154.4" x2="565.08" y2="157.4" stroke="#2a2a2a" stroke-width="1"/>
<text x="565.08" y="166.90" font-size="10.0" text-anchor="middle" font-family="Liberation Sans, sans-serif" fill="#111" >400</text>
<line x1="602.32" y1="154.4" x2="602.32" y2="157.4" stroke="#2a2a2a" stroke-width="1"/>
<text x="602.32" y="166.90" font-size="10.0" text-anchor="middle" font-family="Liberation Sans, sans-serif" fill="#111" >450</text>
<line x1="639.56" y1="154.4" x2="639.56" y2="157.4" stroke="#2a2a2a" stroke-width="1"/>
<text x="639.56" y="166.90" font-size="10.0" text-anchor="middle" font-family="Liberation Sans, sans-serif" fill="#111" >500</text>
<line x1="676.80" y1="154.4" x2="676.80" y2="157.4" stroke="#2a2a2a" stroke-width="1"/>
<text x="676.80" y="166.90" font-size="10.0" text-anchor="middle" font-family="Liberation Sans, sans-serif" fill="#111" >550</text>
<line x1="509.22" y1="154.4" x2="509.22" y2="156.20000000000002" stroke="#2a2a2a" stroke-width="1"/>
<line x1="546.46" y1="154.4" x2="546.46" y2="156.20000000000002" stroke="#2a2a2a" stroke-width="1"/>
<line x1="583.70" y1="154.4" x2="583.70" y2="156.20000000000002" stroke="#2a2a2a" stroke-width="1"/>
<line x1="620.94" y1="154.4" x2="620.94" y2="156.20000000000002" stroke="#2a2a2a" stroke-width="1"/>
<line x1="658.18" y1="154.4" x2="658.18" y2="156.20000000000002" stroke="#2a2a2a" stroke-width="1"/>
<line x1="487.6" y1="142.90" x2="490.6" y2="142.90" stroke="#2a2a2a" stroke-width="1"/>
<text x="485.80" y="146.30" font-size="10.0" text-anchor="end" font-family="Liberation Sans, sans-serif" fill="#111" >−60</text>
<line x1="487.6" y1="119.80" x2="490.6" y2="119.80" stroke="#2a2a2a" stroke-width="1"/>
<text x="485.80" y="123.20" font-size="10.0" text-anchor="end" font-family="Liberation Sans, sans-serif" fill="#111" >−40</text>
<line x1="487.6" y1="96.70" x2="490.6" y2="96.70" stroke="#2a2a2a" stroke-width="1"/>
<text x="485.80" y="100.10" font-size="10.0" text-anchor="end" font-family="Liberation Sans, sans-serif" fill="#111" >−20</text>
<line x1="487.6" y1="73.60" x2="490.6" y2="73.60" stroke="#2a2a2a" stroke-width="1"/>
<text x="485.80" y="77.00" font-size="10.0" text-anchor="end" font-family="Liberation Sans, sans-serif" fill="#111" >0</text>
<line x1="487.6" y1="50.50" x2="490.6" y2="50.50" stroke="#2a2a2a" stroke-width="1"/>
<text x="485.80" y="53.90" font-size="10.0" text-anchor="end" font-family="Liberation Sans, sans-serif" fill="#111" >20</text>
<line x1="487.6" y1="27.40" x2="490.6" y2="27.40" stroke="#2a2a2a" stroke-width="1"/>
<text x="485.80" y="30.80" font-size="10.0" text-anchor="end" font-family="Liberation Sans, sans-serif" fill="#111" >40</text>
<line x1="487.6" y1="4.30" x2="490.6" y2="4.30" stroke="#2a2a2a" stroke-width="1"/>
<text x="485.80" y="7.70" font-size="10.0" text-anchor="end" font-family="Liberation Sans, sans-serif" fill="#111" >60</text>
<line x1="488.8" y1="154.45" x2="490.6" y2="154.45" stroke="#2a2a2a" stroke-width="1"/>
<line x1="488.8" y1="131.35" x2="490.6" y2="131.35" stroke="#2a2a2a" stroke-width="1"/>
<line x1="488.8" y1="108.25" x2="490.6" y2="108.25" stroke="#2a2a2a" stroke-width="1"/>
<line x1="488.8" y1="85.15" x2="490.6" y2="85.15" stroke="#2a2a2a" stroke-width="1"/>
<line x1="488.8" y1="62.05" x2="490.6" y2="62.05" stroke="#2a2a2a" stroke-width="1"/>
<line x1="488.8" y1="38.95" x2="490.6" y2="38.95" stroke="#2a2a2a" stroke-width="1"/>
<line x1="488.8" y1="15.85" x2="490.6" y2="15.85" stroke="#2a2a2a" stroke-width="1"/>
<text x="583.70" y="178.70" font-size="12.9" text-anchor="middle" font-family="Liberation Sans, sans-serif" fill="#111" >Wavelength (nm)</text>
<text x="466.6" y="79.4" font-size="12.9" text-anchor="middle" font-family="Liberation Sans, sans-serif" fill="#111" transform="rotate(-90 466.6 79.4)">CD Intensity (mdeg)</text>
<line x1="638.1" y1="9" x2="652.3" y2="9" stroke="#F96B6D" stroke-width="1.6" stroke-dasharray="5.8 2.6"/>
<line x1="639.2" y1="18.7" x2="653.3" y2="18.7" stroke="#F96B6D" stroke-width="1.6"/>
<line x1="639.2" y1="28.2" x2="651" y2="28.2" stroke="#4DB1F1" stroke-width="1.6" stroke-dasharray="2.6 6.3"/>
<line x1="639.2" y1="37.6" x2="653.3" y2="37.6" stroke="#4DB1F1" stroke-width="1.6"/>
<text x="655.2" y="11.2" font-size="6.4" font-family="Liberation Sans, sans-serif" fill="#222">(<tspan font-style="italic">S</tspan>)-<tspan font-weight="bold">1</tspan><tspan font-size="4.6" dy="1.6">NP</tspan></text>
<text x="655.2" y="20.9" font-size="6.4" font-family="Liberation Sans, sans-serif" fill="#222">(<tspan font-style="italic">R</tspan>)-<tspan font-weight="bold">1</tspan><tspan font-size="4.6" dy="1.6">NP</tspan></text>
<text x="655.2" y="30.4" font-size="6.4" font-family="Liberation Sans, sans-serif" fill="#222">(<tspan font-style="italic">S</tspan>)-<tspan font-weight="bold">1</tspan><tspan font-size="4.6" dy="1.6">NP</tspan></text>
<text x="655.2" y="39.8" font-size="6.4" font-family="Liberation Sans, sans-serif" fill="#222">(<tspan font-style="italic">R</tspan>)-<tspan font-weight="bold">1</tspan><tspan font-size="4.6" dy="1.6">NP</tspan></text>
<rect x="492.40" y="199.40" width="15.3" height="135.60" fill="#4DB1F1" stroke="#1a1a1a" stroke-width="0.9"/>
<rect x="507.70" y="264.08" width="15.3" height="70.92" fill="#F96B6D" stroke="#1a1a1a" stroke-width="0.9"/>
<rect x="531.10" y="199.40" width="15.3" height="135.60" fill="#4DB1F1" stroke="#1a1a1a" stroke-width="0.9"/>
<rect x="546.40" y="269.40" width="15.3" height="65.60" fill="#F96B6D" stroke="#1a1a1a" stroke-width="0.9"/>
<rect x="569.80" y="200.10" width="15.3" height="134.90" fill="#4DB1F1" stroke="#1a1a1a" stroke-width="0.9"/>
<rect x="585.10" y="293.19" width="15.3" height="41.81" fill="#F96B6D" stroke="#1a1a1a" stroke-width="0.9"/>
<rect x="608.50" y="212.57" width="15.3" height="122.43" fill="#4DB1F1" stroke="#1a1a1a" stroke-width="0.9"/>
<rect x="623.80" y="332.46" width="15.3" height="2.54" fill="#F96B6D" stroke="#1a1a1a" stroke-width="0.9"/>
<rect x="647.20" y="215.34" width="15.3" height="119.66" fill="#4DB1F1" stroke="#1a1a1a" stroke-width="0.9"/>
<rect x="662.50" y="333.61" width="15.3" height="1.39" fill="#F96B6D" stroke="#1a1a1a" stroke-width="0.9"/>
<rect x="490.5" y="184.3" width="186.5" height="150.7" fill="none" stroke="#2a2a2a" stroke-width="1.05"/>
<line x1="507.7" y1="335" x2="507.7" y2="338" stroke="#2a2a2a" stroke-width="1"/>
<line x1="546.4" y1="335" x2="546.4" y2="338" stroke="#2a2a2a" stroke-width="1"/>
<line x1="585.1" y1="335" x2="585.1" y2="338" stroke="#2a2a2a" stroke-width="1"/>
<line x1="623.8" y1="335" x2="623.8" y2="338" stroke="#2a2a2a" stroke-width="1"/>
<line x1="662.5" y1="335" x2="662.5" y2="338" stroke="#2a2a2a" stroke-width="1"/>
<line x1="527.05" y1="335" x2="527.05" y2="336.8" stroke="#2a2a2a" stroke-width="1"/>
<line x1="565.75" y1="335" x2="565.75" y2="336.8" stroke="#2a2a2a" stroke-width="1"/>
<line x1="604.45" y1="335" x2="604.45" y2="336.8" stroke="#2a2a2a" stroke-width="1"/>
<line x1="643.15" y1="335" x2="643.15" y2="336.8" stroke="#2a2a2a" stroke-width="1"/>
<text x="507.70" y="347.50" font-size="10.0" text-anchor="middle" font-family="Liberation Sans, sans-serif" fill="#111" >293</text>
<text x="546.40" y="347.50" font-size="10.0" text-anchor="middle" font-family="Liberation Sans, sans-serif" fill="#111" >310.5</text>
<text x="585.10" y="347.50" font-size="10.0" text-anchor="middle" font-family="Liberation Sans, sans-serif" fill="#111" >328</text>
<text x="623.80" y="347.50" font-size="10.0" text-anchor="middle" font-family="Liberation Sans, sans-serif" fill="#111" >345.5</text>
<text x="662.50" y="347.50" font-size="10.0" text-anchor="middle" font-family="Liberation Sans, sans-serif" fill="#111" >363</text>
<line x1="487.5" y1="335.00" x2="490.5" y2="335.00" stroke="#2a2a2a" stroke-width="1"/>
<text x="485.70" y="338.40" font-size="10.0" text-anchor="end" font-family="Liberation Sans, sans-serif" fill="#111" >0</text>
<line x1="487.5" y1="311.90" x2="490.5" y2="311.90" stroke="#2a2a2a" stroke-width="1"/>
<text x="485.70" y="315.30" font-size="10.0" text-anchor="end" font-family="Liberation Sans, sans-serif" fill="#111" >−10</text>
<line x1="487.5" y1="288.80" x2="490.5" y2="288.80" stroke="#2a2a2a" stroke-width="1"/>
<text x="485.70" y="292.20" font-size="10.0" text-anchor="end" font-family="Liberation Sans, sans-serif" fill="#111" >−20</text>
<line x1="487.5" y1="265.70" x2="490.5" y2="265.70" stroke="#2a2a2a" stroke-width="1"/>
<text x="485.70" y="269.10" font-size="10.0" text-anchor="end" font-family="Liberation Sans, sans-serif" fill="#111" >−30</text>
<line x1="487.5" y1="242.60" x2="490.5" y2="242.60" stroke="#2a2a2a" stroke-width="1"/>
<text x="485.70" y="246.00" font-size="10.0" text-anchor="end" font-family="Liberation Sans, sans-serif" fill="#111" >−40</text>
<line x1="487.5" y1="219.50" x2="490.5" y2="219.50" stroke="#2a2a2a" stroke-width="1"/>
<text x="485.70" y="222.90" font-size="10.0" text-anchor="end" font-family="Liberation Sans, sans-serif" fill="#111" >−50</text>
<line x1="487.5" y1="196.40" x2="490.5" y2="196.40" stroke="#2a2a2a" stroke-width="1"/>
<text x="485.70" y="199.80" font-size="10.0" text-anchor="end" font-family="Liberation Sans, sans-serif" fill="#111" >−60</text>
<line x1="488.7" y1="323.45" x2="490.5" y2="323.45" stroke="#2a2a2a" stroke-width="1"/>
<line x1="488.7" y1="300.35" x2="490.5" y2="300.35" stroke="#2a2a2a" stroke-width="1"/>
<line x1="488.7" y1="277.25" x2="490.5" y2="277.25" stroke="#2a2a2a" stroke-width="1"/>
<line x1="488.7" y1="254.15" x2="490.5" y2="254.15" stroke="#2a2a2a" stroke-width="1"/>
<line x1="488.7" y1="231.05" x2="490.5" y2="231.05" stroke="#2a2a2a" stroke-width="1"/>
<line x1="488.7" y1="207.95" x2="490.5" y2="207.95" stroke="#2a2a2a" stroke-width="1"/>
<line x1="488.7" y1="184.85" x2="490.5" y2="184.85" stroke="#2a2a2a" stroke-width="1"/>
<text x="583.75" y="359.20" font-size="12.9" text-anchor="middle" font-family="Liberation Sans, sans-serif" fill="#111" >Temperature (K)</text>
<text x="465.8" y="259.65" font-size="12.9" text-anchor="middle" font-family="Liberation Sans, sans-serif" fill="#111" transform="rotate(-90 465.8 259.65)">CD Intensity (mdeg)</text>
</svg></body></html>
